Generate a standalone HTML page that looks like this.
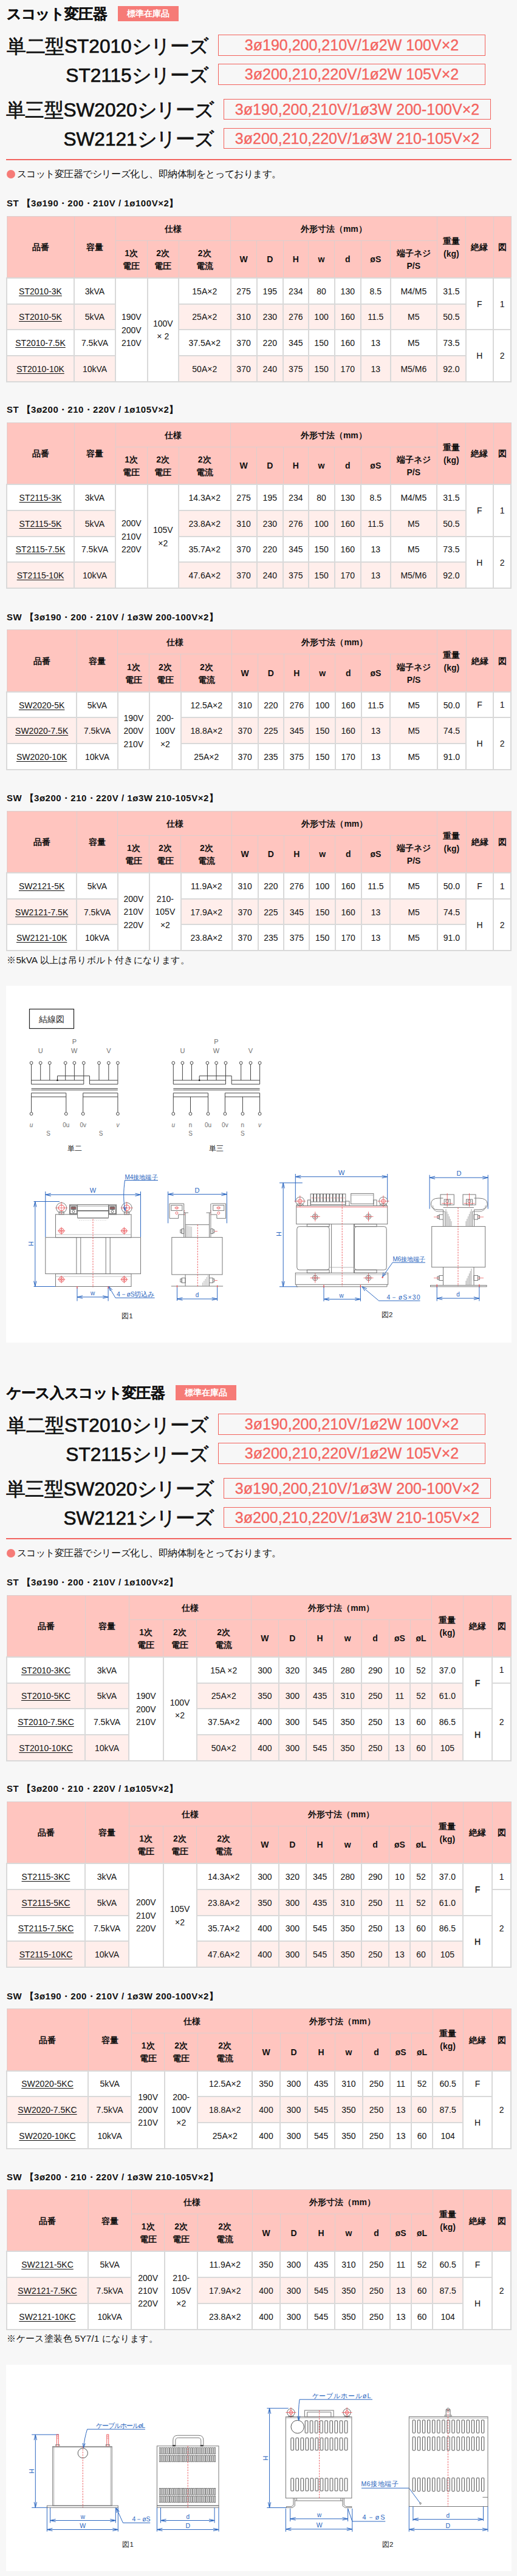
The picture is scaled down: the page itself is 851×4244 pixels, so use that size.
<!DOCTYPE html>
<html lang="ja">
<head>
<meta charset="utf-8">
<title>スコット変圧器</title>
<style>
*{box-sizing:border-box;margin:0;padding:0}
html,body{width:851px;height:4244px;overflow:hidden}
body{background:#f7f7f7;font-family:"Liberation Sans",sans-serif;color:#111;position:relative;font-size:14px}
.abs{position:absolute}
.ttl{position:absolute;left:11px;font-size:23.7px;font-weight:bold;line-height:30px;-webkit-text-stroke:.35px #111;white-space:nowrap;color:#111}
.badge{position:absolute;background:#f67b77;color:#fff;font-size:14px;font-weight:bold;line-height:25px;height:25px;text-align:center;white-space:nowrap}
.ser{position:absolute;font-size:31.6px;line-height:40px;-webkit-text-stroke:0.7px #111;white-space:nowrap;color:#111;text-align:right;left:0}
.box{position:absolute;border:1px solid #f2605a;color:#f4645f;font-size:25px;line-height:32px;height:34px;text-align:center;white-space:nowrap;-webkit-text-stroke:.35px #f4645f}
.rline{position:absolute;left:10px;width:832px;height:2px;background:#f2645f}
.bul{position:absolute;left:11px;font-size:15.55px;line-height:20px;white-space:nowrap}
.bul i{font-style:normal;display:inline-block;width:14px;height:14px;border-radius:50%;background:#f67b77;color:transparent;font-size:1px;overflow:hidden;vertical-align:-2px;margin-right:2.5px}
.cap{position:absolute;left:11px;font-size:15px;font-weight:bold;line-height:20px;white-space:nowrap;letter-spacing:.55px}
.note{position:absolute;left:11px;font-size:15.4px;line-height:20px;white-space:nowrap}
table{position:absolute;border-collapse:collapse;table-layout:fixed;background:#fff}
td,th{border:2px solid #d9d9d9;text-align:center;vertical-align:middle;font-size:14px;line-height:21px;padding:0;white-space:nowrap;overflow:hidden}
th{background:#ffc5bf;font-weight:bold;font-size:14px;line-height:21px;border:1px solid #dccfce;padding-top:2px}
tr.alt td{background:#ffeeeb}
td{padding-top:2px}
td b{font-weight:normal;-webkit-text-stroke:.35px #111}
td.w{background:#fff !important;line-height:21.4px}
td u{text-decoration:underline;text-underline-offset:2px}
.k{display:inline-block;width:1em;text-align:center}
.wb{position:absolute;left:10px;width:832px;background:#fff}
</style>
</head>
<body>
<div class="ttl" style="top:8px"><span class="k">ス</span><span class="k">コ</span><span class="k">ッ</span><span class="k">ト</span><span class="k">変</span><span class="k">圧</span><span class="k">器</span></div>
<div class="badge" style="left:194px;top:10px;width:100px"><span class="k">標</span><span class="k">準</span><span class="k">在</span><span class="k">庫</span><span class="k">品</span></div>
<div class="ser" style="top:55.5px;width:343px"><span class="k">単</span><span class="k">二</span><span class="k">型</span>ST2010<span class="k">シ</span><span class="k">リ</span><span class="k">ー</span><span class="k">ズ</span></div>
<div class="box" style="left:359px;top:57px;width:440px;height:35px;line-height:33px">3ø190,200,210V/1ø2W 100V×2</div>
<div class="ser" style="top:103.5px;width:343px">ST2115<span class="k">シ</span><span class="k">リ</span><span class="k">ー</span><span class="k">ズ</span></div>
<div class="box" style="left:359px;top:105px;width:440px;height:35px;line-height:33px">3ø200,210,220V/1ø2W 105V×2</div>
<div class="ser" style="top:161px;width:352px"><span class="k">単</span><span class="k">三</span><span class="k">型</span>SW2020<span class="k">シ</span><span class="k">リ</span><span class="k">ー</span><span class="k">ズ</span></div>
<div class="box" style="left:368px;top:163px;width:440px;height:34px;line-height:32px">3ø190,200,210V/1ø3W 200-100V×2</div>
<div class="ser" style="top:209px;width:352px">SW2121<span class="k">シ</span><span class="k">リ</span><span class="k">ー</span><span class="k">ズ</span></div>
<div class="box" style="left:368px;top:211px;width:440px;height:34px;line-height:32px">3ø200,210,220V/1ø3W 210-105V×2</div>
<div class="rline" style="top:262px"></div>
<div class="bul" style="top:276.5px"><i>●</i><span class="k">ス</span><span class="k">コ</span><span class="k">ッ</span><span class="k">ト</span><span class="k">変</span><span class="k">圧</span><span class="k">器</span><span class="k">で</span><span class="k">シ</span><span class="k">リ</span><span class="k">ー</span><span class="k">ズ</span><span class="k">化</span><span class="k">し</span><span class="k">、</span><span class="k">即</span><span class="k">納</span><span class="k">体</span><span class="k">制</span><span class="k">を</span><span class="k">と</span><span class="k">っ</span><span class="k">て</span><span class="k">お</span><span class="k">り</span><span class="k">ま</span><span class="k">す</span><span class="k">。</span></div>
<div class="cap" style="top:325.1px">ST <span class="k">【</span>3ø190<span class="k">・</span>200<span class="k">・</span>210V / 1ø100V×2<span class="k">】</span></div>
<table style="left:10.0px;top:355.5px;width:832.0px"><colgroup><col style="width:111.0px"><col style="width:68.0px"><col style="width:52.5px"><col style="width:51.5px"><col style="width:85.5px"><col style="width:43.0px"><col style="width:43.5px"><col style="width:41.5px"><col style="width:43.0px"><col style="width:43.5px"><col style="width:48.5px"><col style="width:76.5px"><col style="width:47.5px"><col style="width:45.5px"><col style="width:29.0px"></colgroup>
<tr style="height:40.00px"><th rowspan="2"><span class="k">品</span><span class="k">番</span></th><th rowspan="2"><span class="k">容</span><span class="k">量</span></th><th colspan="3"><span class="k">仕</span><span class="k">様</span></th><th colspan="7"><span class="k">外</span><span class="k">形</span><span class="k">寸</span><span class="k">法</span><span class="k">（</span>mm<span class="k">）</span></th><th rowspan="2"><span class="k">重</span><span class="k">量</span><br>(kg)</th><th rowspan="2"><span class="k">絶</span><span class="k">縁</span></th><th rowspan="2"><span class="k">図</span></th></tr><tr style="height:61.80px"><th>1<span class="k">次</span><br><span class="k">電</span><span class="k">圧</span></th><th>2<span class="k">次</span><br><span class="k">電</span><span class="k">圧</span></th><th>2<span class="k">次</span><br><span class="k">電</span><span class="k">流</span></th><th>W</th><th>D</th><th>H</th><th>w</th><th>d</th><th>øS</th><th><span class="k">端</span><span class="k">子</span><span class="k">ネ</span><span class="k">ジ</span><br>P/S</th></tr>
<tr style="height:42.75px"><td><u>ST2010-3K</u></td><td>3kVA</td><td class="w" rowspan="4">190V<br>200V<br>210V</td><td class="w" rowspan="4">100V<br>× 2</td><td>15A×2</td><td>275</td><td>195</td><td>234</td><td>80</td><td>130</td><td>8.5</td><td>M4/M5</td><td>31.5</td><td class="w" rowspan="2">F</td><td class="w" rowspan="2">1</td></tr>
<tr class="alt" style="height:42.75px"><td><u>ST2010-5K</u></td><td>5kVA</td><td>25A×2</td><td>310</td><td>230</td><td>276</td><td>100</td><td>160</td><td>11.5</td><td>M5</td><td>50.5</td></tr>
<tr style="height:42.75px"><td><u>ST2010-7.5K</u></td><td>7.5kVA</td><td>37.5A×2</td><td>370</td><td>220</td><td>345</td><td>150</td><td>160</td><td>13</td><td>M5</td><td>73.5</td><td class="w" rowspan="2">H</td><td class="w" rowspan="2">2</td></tr>
<tr class="alt" style="height:42.75px"><td><u>ST2010-10K</u></td><td>10kVA</td><td>50A×2</td><td>370</td><td>240</td><td>375</td><td>150</td><td>170</td><td>13</td><td>M5/M6</td><td>92.0</td></tr>
</table>
<div class="cap" style="top:665.4px">ST <span class="k">【</span>3ø200<span class="k">・</span>210<span class="k">・</span>220V / 1ø105V×2<span class="k">】</span></div>
<table style="left:10.0px;top:695.8px;width:832.0px"><colgroup><col style="width:111.0px"><col style="width:68.0px"><col style="width:52.5px"><col style="width:51.5px"><col style="width:85.5px"><col style="width:43.0px"><col style="width:43.5px"><col style="width:41.5px"><col style="width:43.0px"><col style="width:43.5px"><col style="width:48.5px"><col style="width:76.5px"><col style="width:47.5px"><col style="width:45.5px"><col style="width:29.0px"></colgroup>
<tr style="height:40.00px"><th rowspan="2"><span class="k">品</span><span class="k">番</span></th><th rowspan="2"><span class="k">容</span><span class="k">量</span></th><th colspan="3"><span class="k">仕</span><span class="k">様</span></th><th colspan="7"><span class="k">外</span><span class="k">形</span><span class="k">寸</span><span class="k">法</span><span class="k">（</span>mm<span class="k">）</span></th><th rowspan="2"><span class="k">重</span><span class="k">量</span><br>(kg)</th><th rowspan="2"><span class="k">絶</span><span class="k">縁</span></th><th rowspan="2"><span class="k">図</span></th></tr><tr style="height:61.80px"><th>1<span class="k">次</span><br><span class="k">電</span><span class="k">圧</span></th><th>2<span class="k">次</span><br><span class="k">電</span><span class="k">圧</span></th><th>2<span class="k">次</span><br><span class="k">電</span><span class="k">流</span></th><th>W</th><th>D</th><th>H</th><th>w</th><th>d</th><th>øS</th><th><span class="k">端</span><span class="k">子</span><span class="k">ネ</span><span class="k">ジ</span><br>P/S</th></tr>
<tr style="height:42.75px"><td><u>ST2115-3K</u></td><td>3kVA</td><td class="w" rowspan="4">200V<br>210V<br>220V</td><td class="w" rowspan="4">105V<br>×2</td><td>14.3A×2</td><td>275</td><td>195</td><td>234</td><td>80</td><td>130</td><td>8.5</td><td>M4/M5</td><td>31.5</td><td class="w" rowspan="2">F</td><td class="w" rowspan="2">1</td></tr>
<tr class="alt" style="height:42.75px"><td><u>ST2115-5K</u></td><td>5kVA</td><td>23.8A×2</td><td>310</td><td>230</td><td>276</td><td>100</td><td>160</td><td>11.5</td><td>M5</td><td>50.5</td></tr>
<tr style="height:42.75px"><td><u>ST2115-7.5K</u></td><td>7.5kVA</td><td>35.7A×2</td><td>370</td><td>220</td><td>345</td><td>150</td><td>160</td><td>13</td><td>M5</td><td>73.5</td><td class="w" rowspan="2">H</td><td class="w" rowspan="2">2</td></tr>
<tr class="alt" style="height:42.75px"><td><u>ST2115-10K</u></td><td>10kVA</td><td>47.6A×2</td><td>370</td><td>240</td><td>375</td><td>150</td><td>170</td><td>13</td><td>M5/M6</td><td>92.0</td></tr>
</table>
<div class="cap" style="top:1007.0000000000001px">SW <span class="k">【</span>3ø190<span class="k">・</span>200<span class="k">・</span>210V / 1ø3W 200-100V×2<span class="k">】</span></div>
<table style="left:10.0px;top:1037.4px;width:832.0px"><colgroup><col style="width:115.3px"><col style="width:67.4px"><col style="width:52.3px"><col style="width:51.8px"><col style="width:84.0px"><col style="width:42.7px"><col style="width:42.8px"><col style="width:42.2px"><col style="width:42.3px"><col style="width:42.8px"><col style="width:47.8px"><col style="width:77.4px"><col style="width:47.2px"><col style="width:45.0px"><col style="width:29.0px"></colgroup>
<tr style="height:40.00px"><th rowspan="2"><span class="k">品</span><span class="k">番</span></th><th rowspan="2"><span class="k">容</span><span class="k">量</span></th><th colspan="3"><span class="k">仕</span><span class="k">様</span></th><th colspan="7"><span class="k">外</span><span class="k">形</span><span class="k">寸</span><span class="k">法</span><span class="k">（</span>mm<span class="k">）</span></th><th rowspan="2"><span class="k">重</span><span class="k">量</span><br>(kg)</th><th rowspan="2"><span class="k">絶</span><span class="k">縁</span></th><th rowspan="2"><span class="k">図</span></th></tr><tr style="height:61.80px"><th>1<span class="k">次</span><br><span class="k">電</span><span class="k">圧</span></th><th>2<span class="k">次</span><br><span class="k">電</span><span class="k">圧</span></th><th>2<span class="k">次</span><br><span class="k">電</span><span class="k">流</span></th><th>W</th><th>D</th><th>H</th><th>w</th><th>d</th><th>øS</th><th><span class="k">端</span><span class="k">子</span><span class="k">ネ</span><span class="k">ジ</span><br>P/S</th></tr>
<tr style="height:42.75px"><td><u>SW2020-5K</u></td><td>5kVA</td><td class="w" rowspan="3">190V<br>200V<br>210V</td><td class="w" rowspan="3">200-<br>100V<br>×2</td><td>12.5A×2</td><td>310</td><td>220</td><td>276</td><td>100</td><td>160</td><td>11.5</td><td>M5</td><td>50.0</td><td class="w">F</td><td class="w">1</td></tr>
<tr class="alt" style="height:42.75px"><td><u>SW2020-7.5K</u></td><td>7.5kVA</td><td>18.8A×2</td><td>370</td><td>225</td><td>345</td><td>150</td><td>160</td><td>13</td><td>M5</td><td>74.5</td><td class="w" rowspan="2">H</td><td class="w" rowspan="2">2</td></tr>
<tr style="height:42.75px"><td><u>SW2020-10K</u></td><td>10kVA</td><td>25A×2</td><td>370</td><td>235</td><td>375</td><td>150</td><td>170</td><td>13</td><td>M5</td><td>91.0</td></tr>
</table>
<div class="cap" style="top:1305.1999999999998px">SW <span class="k">【</span>3ø200<span class="k">・</span>210<span class="k">・</span>220V / 1ø3W 210-105V×2<span class="k">】</span></div>
<table style="left:10.0px;top:1335.6px;width:832.0px"><colgroup><col style="width:115.3px"><col style="width:67.4px"><col style="width:52.3px"><col style="width:51.8px"><col style="width:84.0px"><col style="width:42.7px"><col style="width:42.8px"><col style="width:42.2px"><col style="width:42.3px"><col style="width:42.8px"><col style="width:47.8px"><col style="width:77.4px"><col style="width:47.2px"><col style="width:45.0px"><col style="width:29.0px"></colgroup>
<tr style="height:40.00px"><th rowspan="2"><span class="k">品</span><span class="k">番</span></th><th rowspan="2"><span class="k">容</span><span class="k">量</span></th><th colspan="3"><span class="k">仕</span><span class="k">様</span></th><th colspan="7"><span class="k">外</span><span class="k">形</span><span class="k">寸</span><span class="k">法</span><span class="k">（</span>mm<span class="k">）</span></th><th rowspan="2"><span class="k">重</span><span class="k">量</span><br>(kg)</th><th rowspan="2"><span class="k">絶</span><span class="k">縁</span></th><th rowspan="2"><span class="k">図</span></th></tr><tr style="height:61.80px"><th>1<span class="k">次</span><br><span class="k">電</span><span class="k">圧</span></th><th>2<span class="k">次</span><br><span class="k">電</span><span class="k">圧</span></th><th>2<span class="k">次</span><br><span class="k">電</span><span class="k">流</span></th><th>W</th><th>D</th><th>H</th><th>w</th><th>d</th><th>øS</th><th><span class="k">端</span><span class="k">子</span><span class="k">ネ</span><span class="k">ジ</span><br>P/S</th></tr>
<tr style="height:42.75px"><td><u>SW2121-5K</u></td><td>5kVA</td><td class="w" rowspan="3">200V<br>210V<br>220V</td><td class="w" rowspan="3">210-<br>105V<br>×2</td><td>11.9A×2</td><td>310</td><td>220</td><td>276</td><td>100</td><td>160</td><td>11.5</td><td>M5</td><td>50.0</td><td class="w">F</td><td class="w">1</td></tr>
<tr class="alt" style="height:42.75px"><td><u>SW2121-7.5K</u></td><td>7.5kVA</td><td>17.9A×2</td><td>370</td><td>225</td><td>345</td><td>150</td><td>160</td><td>13</td><td>M5</td><td>74.5</td><td class="w" rowspan="2">H</td><td class="w" rowspan="2">2</td></tr>
<tr style="height:42.75px"><td><u>SW2121-10K</u></td><td>10kVA</td><td>23.8A×2</td><td>370</td><td>235</td><td>375</td><td>150</td><td>170</td><td>13</td><td>M5</td><td>91.0</td></tr>
</table>
<div class="note" style="top:1572px"><span class="k">※</span>5kVA <span class="k">以</span><span class="k">上</span><span class="k">は</span><span class="k">吊</span><span class="k">り</span><span class="k">ボ</span><span class="k">ル</span><span class="k">ト</span><span class="k">付</span><span class="k">き</span><span class="k">に</span><span class="k">な</span><span class="k">り</span><span class="k">ま</span><span class="k">す</span><span class="k">。</span></div>
<div class="wb" style="top:1624px;height:588px"><svg width="832" height="588" viewBox="10 1624 832 588" style="position:absolute;left:0;top:0;font-family:'Liberation Sans',sans-serif" shape-rendering="geometricPrecision">
<rect x="48.5" y="1662.5" width="73.0" height="32.0" rx="0" fill="none" stroke="#222" stroke-width="1.2"/>
<text x="85.0" y="1683.5" font-size="14" fill="#222" text-anchor="middle" font-weight="normal">結線図</text>
<text x="122.3" y="1719.5" font-size="11" fill="#707070" text-anchor="middle" font-weight="normal">P</text>
<text x="66.7" y="1734.5" font-size="11" fill="#707070" text-anchor="middle" font-weight="normal">U</text>
<text x="122.3" y="1734.5" font-size="11" fill="#707070" text-anchor="middle" font-weight="normal">W</text>
<text x="178.8" y="1734.5" font-size="11" fill="#707070" text-anchor="middle" font-weight="normal">V</text>
<circle cx="51.6" cy="1751.2" r="2.4" fill="#fff" stroke="#444" stroke-width="1"/>
<line x1="51.6" y1="1753.6" x2="51.6" y2="1786.2" stroke="#444" stroke-width="1"/>
<circle cx="66.7" cy="1751.2" r="2.4" fill="#fff" stroke="#444" stroke-width="1"/>
<line x1="66.7" y1="1753.6" x2="66.7" y2="1779.8" stroke="#444" stroke-width="1"/>
<circle cx="81.8" cy="1751.2" r="2.4" fill="#fff" stroke="#444" stroke-width="1"/>
<line x1="81.8" y1="1753.6" x2="81.8" y2="1779.8" stroke="#444" stroke-width="1"/>
<circle cx="107.7" cy="1751.2" r="2.4" fill="#fff" stroke="#444" stroke-width="1"/>
<line x1="107.7" y1="1753.6" x2="107.7" y2="1779.8" stroke="#444" stroke-width="1"/>
<circle cx="122.4" cy="1751.2" r="2.4" fill="#fff" stroke="#444" stroke-width="1"/>
<line x1="122.4" y1="1753.6" x2="122.4" y2="1779.8" stroke="#444" stroke-width="1"/>
<circle cx="137.8" cy="1751.2" r="2.4" fill="#fff" stroke="#444" stroke-width="1"/>
<line x1="137.8" y1="1753.6" x2="137.8" y2="1786.2" stroke="#444" stroke-width="1"/>
<circle cx="163.0" cy="1751.2" r="2.4" fill="#fff" stroke="#444" stroke-width="1"/>
<line x1="163.0" y1="1753.6" x2="163.0" y2="1779.8" stroke="#444" stroke-width="1"/>
<circle cx="178.8" cy="1751.2" r="2.4" fill="#fff" stroke="#444" stroke-width="1"/>
<line x1="178.8" y1="1753.6" x2="178.8" y2="1779.8" stroke="#444" stroke-width="1"/>
<circle cx="193.9" cy="1751.2" r="2.4" fill="#fff" stroke="#444" stroke-width="1"/>
<line x1="193.9" y1="1753.6" x2="193.9" y2="1786.2" stroke="#444" stroke-width="1"/>
<line x1="51.6" y1="1779.8" x2="137.8" y2="1779.8" stroke="#444" stroke-width="1"/>
<line x1="51.6" y1="1786.2" x2="137.8" y2="1786.2" stroke="#444" stroke-width="1"/>
<line x1="147.5" y1="1779.8" x2="193.9" y2="1779.8" stroke="#444" stroke-width="1"/>
<line x1="147.5" y1="1786.2" x2="193.9" y2="1786.2" stroke="#444" stroke-width="1"/>
<polyline points="94.5,1779.8 94.5,1772.6 147.5,1772.6 147.5,1786.2" fill="none" stroke="#444" stroke-width="1"/>
<circle cx="94.5" cy="1779.8" r="1.3" fill="#111" stroke="#111" stroke-width="0"/>
<line x1="51.6" y1="1793.4" x2="193.9" y2="1793.4" stroke="#444" stroke-width="1"/>
<line x1="51.6" y1="1795.8" x2="193.9" y2="1795.8" stroke="#444" stroke-width="1"/>
<line x1="51.6" y1="1800.8" x2="108.8" y2="1800.8" stroke="#444" stroke-width="1"/>
<line x1="51.6" y1="1807.0" x2="108.8" y2="1807.0" stroke="#444" stroke-width="1"/>
<line x1="51.6" y1="1800.8" x2="51.6" y2="1832.6" stroke="#444" stroke-width="1"/>
<line x1="108.8" y1="1800.8" x2="108.8" y2="1832.6" stroke="#444" stroke-width="1"/>
<circle cx="51.6" cy="1835.0" r="2.4" fill="#fff" stroke="#444" stroke-width="1"/>
<circle cx="108.8" cy="1835.0" r="2.4" fill="#fff" stroke="#444" stroke-width="1"/>
<line x1="136.7" y1="1800.8" x2="193.9" y2="1800.8" stroke="#444" stroke-width="1"/>
<line x1="136.7" y1="1807.0" x2="193.9" y2="1807.0" stroke="#444" stroke-width="1"/>
<line x1="136.7" y1="1800.8" x2="136.7" y2="1832.6" stroke="#444" stroke-width="1"/>
<line x1="193.9" y1="1800.8" x2="193.9" y2="1832.6" stroke="#444" stroke-width="1"/>
<circle cx="136.7" cy="1835.0" r="2.4" fill="#fff" stroke="#444" stroke-width="1"/>
<circle cx="193.9" cy="1835.0" r="2.4" fill="#fff" stroke="#444" stroke-width="1"/>
<text x="51.6" y="1856.5" font-size="10" fill="#707070" text-anchor="middle" font-weight="normal" font-style="italic">u</text>
<text x="108.8" y="1856.5" font-size="10" fill="#707070" text-anchor="middle" font-weight="normal">0u</text>
<text x="136.7" y="1856.5" font-size="10" fill="#707070" text-anchor="middle" font-weight="normal">0v</text>
<text x="193.9" y="1856.5" font-size="10" fill="#707070" text-anchor="middle" font-weight="normal" font-style="italic">v</text>
<text x="79.5" y="1870.5" font-size="10" fill="#707070" text-anchor="middle" font-weight="normal">S</text>
<text x="166.0" y="1870.5" font-size="10" fill="#707070" text-anchor="middle" font-weight="normal">S</text>
<text x="122.5" y="1896.0" font-size="12" fill="#222" text-anchor="middle" font-weight="normal">単二</text>
<text x="356.0" y="1719.5" font-size="11" fill="#707070" text-anchor="middle" font-weight="normal">P</text>
<text x="300.4" y="1734.5" font-size="11" fill="#707070" text-anchor="middle" font-weight="normal">U</text>
<text x="356.0" y="1734.5" font-size="11" fill="#707070" text-anchor="middle" font-weight="normal">W</text>
<text x="412.5" y="1734.5" font-size="11" fill="#707070" text-anchor="middle" font-weight="normal">V</text>
<circle cx="285.3" cy="1751.2" r="2.4" fill="#fff" stroke="#444" stroke-width="1"/>
<line x1="285.3" y1="1753.6" x2="285.3" y2="1786.2" stroke="#444" stroke-width="1"/>
<circle cx="300.4" cy="1751.2" r="2.4" fill="#fff" stroke="#444" stroke-width="1"/>
<line x1="300.4" y1="1753.6" x2="300.4" y2="1779.8" stroke="#444" stroke-width="1"/>
<circle cx="315.5" cy="1751.2" r="2.4" fill="#fff" stroke="#444" stroke-width="1"/>
<line x1="315.5" y1="1753.6" x2="315.5" y2="1779.8" stroke="#444" stroke-width="1"/>
<circle cx="341.4" cy="1751.2" r="2.4" fill="#fff" stroke="#444" stroke-width="1"/>
<line x1="341.4" y1="1753.6" x2="341.4" y2="1779.8" stroke="#444" stroke-width="1"/>
<circle cx="356.1" cy="1751.2" r="2.4" fill="#fff" stroke="#444" stroke-width="1"/>
<line x1="356.1" y1="1753.6" x2="356.1" y2="1779.8" stroke="#444" stroke-width="1"/>
<circle cx="371.5" cy="1751.2" r="2.4" fill="#fff" stroke="#444" stroke-width="1"/>
<line x1="371.5" y1="1753.6" x2="371.5" y2="1786.2" stroke="#444" stroke-width="1"/>
<circle cx="396.7" cy="1751.2" r="2.4" fill="#fff" stroke="#444" stroke-width="1"/>
<line x1="396.7" y1="1753.6" x2="396.7" y2="1779.8" stroke="#444" stroke-width="1"/>
<circle cx="412.5" cy="1751.2" r="2.4" fill="#fff" stroke="#444" stroke-width="1"/>
<line x1="412.5" y1="1753.6" x2="412.5" y2="1779.8" stroke="#444" stroke-width="1"/>
<circle cx="427.6" cy="1751.2" r="2.4" fill="#fff" stroke="#444" stroke-width="1"/>
<line x1="427.6" y1="1753.6" x2="427.6" y2="1786.2" stroke="#444" stroke-width="1"/>
<line x1="285.3" y1="1779.8" x2="371.5" y2="1779.8" stroke="#444" stroke-width="1"/>
<line x1="285.3" y1="1786.2" x2="371.5" y2="1786.2" stroke="#444" stroke-width="1"/>
<line x1="381.2" y1="1779.8" x2="427.6" y2="1779.8" stroke="#444" stroke-width="1"/>
<line x1="381.2" y1="1786.2" x2="427.6" y2="1786.2" stroke="#444" stroke-width="1"/>
<polyline points="328.2,1779.8 328.2,1772.6 381.2,1772.6 381.2,1786.2" fill="none" stroke="#444" stroke-width="1"/>
<circle cx="328.2" cy="1779.8" r="1.3" fill="#111" stroke="#111" stroke-width="0"/>
<line x1="285.3" y1="1793.4" x2="427.6" y2="1793.4" stroke="#444" stroke-width="1"/>
<line x1="285.3" y1="1795.8" x2="427.6" y2="1795.8" stroke="#444" stroke-width="1"/>
<line x1="285.3" y1="1800.8" x2="342.5" y2="1800.8" stroke="#444" stroke-width="1"/>
<line x1="285.3" y1="1807.0" x2="342.5" y2="1807.0" stroke="#444" stroke-width="1"/>
<line x1="285.3" y1="1800.8" x2="285.3" y2="1832.6" stroke="#444" stroke-width="1"/>
<line x1="342.5" y1="1800.8" x2="342.5" y2="1832.6" stroke="#444" stroke-width="1"/>
<circle cx="285.3" cy="1835.0" r="2.4" fill="#fff" stroke="#444" stroke-width="1"/>
<circle cx="342.5" cy="1835.0" r="2.4" fill="#fff" stroke="#444" stroke-width="1"/>
<line x1="370.4" y1="1800.8" x2="427.6" y2="1800.8" stroke="#444" stroke-width="1"/>
<line x1="370.4" y1="1807.0" x2="427.6" y2="1807.0" stroke="#444" stroke-width="1"/>
<line x1="370.4" y1="1800.8" x2="370.4" y2="1832.6" stroke="#444" stroke-width="1"/>
<line x1="427.6" y1="1800.8" x2="427.6" y2="1832.6" stroke="#444" stroke-width="1"/>
<circle cx="370.4" cy="1835.0" r="2.4" fill="#fff" stroke="#444" stroke-width="1"/>
<circle cx="427.6" cy="1835.0" r="2.4" fill="#fff" stroke="#444" stroke-width="1"/>
<text x="285.3" y="1856.5" font-size="10" fill="#707070" text-anchor="middle" font-weight="normal" font-style="italic">u</text>
<text x="342.5" y="1856.5" font-size="10" fill="#707070" text-anchor="middle" font-weight="normal">0u</text>
<text x="370.4" y="1856.5" font-size="10" fill="#707070" text-anchor="middle" font-weight="normal">0v</text>
<text x="427.6" y="1856.5" font-size="10" fill="#707070" text-anchor="middle" font-weight="normal" font-style="italic">v</text>
<line x1="313.5" y1="1807.0" x2="313.5" y2="1832.6" stroke="#444" stroke-width="1"/>
<circle cx="313.5" cy="1835.0" r="2.4" fill="#fff" stroke="#444" stroke-width="1"/>
<text x="313.5" y="1856.5" font-size="10" fill="#707070" text-anchor="middle" font-weight="normal">n</text>
<text x="313.5" y="1871.0" font-size="10" fill="#707070" text-anchor="middle" font-weight="normal">S</text>
<line x1="399.4" y1="1807.0" x2="399.4" y2="1832.6" stroke="#444" stroke-width="1"/>
<circle cx="399.4" cy="1835.0" r="2.4" fill="#fff" stroke="#444" stroke-width="1"/>
<text x="399.4" y="1856.5" font-size="10" fill="#707070" text-anchor="middle" font-weight="normal">n</text>
<text x="399.4" y="1871.0" font-size="10" fill="#707070" text-anchor="middle" font-weight="normal">S</text>
<text x="356.0" y="1896.0" font-size="12" fill="#222" text-anchor="middle" font-weight="normal">単三</text>
<line x1="74.8" y1="1963.0" x2="74.8" y2="2038.0" stroke="#2a66c0" stroke-width="1"/>
<line x1="231.5" y1="1963.0" x2="231.5" y2="2038.0" stroke="#2a66c0" stroke-width="1"/>
<line x1="74.8" y1="1968.3" x2="231.5" y2="1968.3" stroke="#2a66c0" stroke-width="1"/>
<polyline points="83.8,1966.1 74.8,1968.3 83.8,1970.5" fill="none" stroke="#2a66c0" stroke-width="1"/>
<polyline points="222.5,1966.1 231.5,1968.3 222.5,1970.5" fill="none" stroke="#2a66c0" stroke-width="1"/>
<text x="153.0" y="1965.0" font-size="11" fill="#2a66c0" text-anchor="middle" font-weight="normal">W</text>
<line x1="55.5" y1="1979.5" x2="98.0" y2="1979.5" stroke="#2a66c0" stroke-width="1"/>
<line x1="55.5" y1="2119.5" x2="91.0" y2="2119.5" stroke="#2a66c0" stroke-width="1"/>
<line x1="57.8" y1="1979.5" x2="57.8" y2="2119.5" stroke="#2a66c0" stroke-width="1"/>
<polyline points="55.6,1988.5 57.8,1979.5 60.0,1988.5" fill="none" stroke="#2a66c0" stroke-width="1"/>
<polyline points="55.6,2110.5 57.8,2119.5 60.0,2110.5" fill="none" stroke="#2a66c0" stroke-width="1"/>
<text x="55.0" y="2049.0" font-size="11" fill="#2a66c0" text-anchor="middle" font-weight="normal" transform="rotate(-90 55.0 2049.0)">H</text>
<rect x="91.5" y="2000.8" width="124.5" height="37.9" rx="0" fill="none" stroke="#787878" stroke-width="1"/>
<line x1="91.5" y1="2034.0" x2="216.0" y2="2034.0" stroke="#aaa" stroke-width="0.7"/>
<rect x="74.8" y="2038.7" width="51.1" height="59.9" rx="0" fill="none" stroke="#787878" stroke-width="1"/>
<rect x="181.2" y="2038.7" width="50.3" height="59.9" rx="0" fill="none" stroke="#787878" stroke-width="1"/>
<line x1="125.9" y1="2038.7" x2="181.2" y2="2038.7" stroke="#787878" stroke-width="1"/>
<line x1="125.9" y1="2098.6" x2="181.2" y2="2098.6" stroke="#787878" stroke-width="1"/>
<line x1="132.8" y1="2038.7" x2="132.8" y2="2098.6" stroke="#787878" stroke-width="1"/>
<line x1="174.2" y1="2038.7" x2="174.2" y2="2098.6" stroke="#787878" stroke-width="1"/>
<rect x="91.5" y="2098.6" width="124.5" height="20.9" rx="0" fill="none" stroke="#787878" stroke-width="1"/>
<line x1="91.5" y1="2103.0" x2="216.0" y2="2103.0" stroke="#aaa" stroke-width="0.7"/>
<circle cx="101.1" cy="2027.8" r="4.2" fill="none" stroke="#ea4a4e" stroke-width="1"/>
<circle cx="101.1" cy="2027.8" r="1.8900000000000001" fill="none" stroke="#ea4a4e" stroke-width="0.8"/>
<line x1="94.9" y1="2027.8" x2="107.3" y2="2027.8" stroke="#ea4a4e" stroke-width="0.7"/>
<line x1="101.1" y1="2021.6" x2="101.1" y2="2034.0" stroke="#ea4a4e" stroke-width="0.7"/>
<circle cx="101.1" cy="2107.9" r="4.2" fill="none" stroke="#ea4a4e" stroke-width="1"/>
<circle cx="101.1" cy="2107.9" r="1.8900000000000001" fill="none" stroke="#ea4a4e" stroke-width="0.8"/>
<line x1="94.9" y1="2107.9" x2="107.3" y2="2107.9" stroke="#ea4a4e" stroke-width="0.7"/>
<line x1="101.1" y1="2101.7" x2="101.1" y2="2114.1" stroke="#ea4a4e" stroke-width="0.7"/>
<circle cx="204.4" cy="2027.8" r="4.2" fill="none" stroke="#ea4a4e" stroke-width="1"/>
<circle cx="204.4" cy="2027.8" r="1.8900000000000001" fill="none" stroke="#ea4a4e" stroke-width="0.8"/>
<line x1="198.2" y1="2027.8" x2="210.6" y2="2027.8" stroke="#ea4a4e" stroke-width="0.7"/>
<line x1="204.4" y1="2021.6" x2="204.4" y2="2034.0" stroke="#ea4a4e" stroke-width="0.7"/>
<circle cx="204.4" cy="2107.9" r="4.2" fill="none" stroke="#ea4a4e" stroke-width="1"/>
<circle cx="204.4" cy="2107.9" r="1.8900000000000001" fill="none" stroke="#ea4a4e" stroke-width="0.8"/>
<line x1="198.2" y1="2107.9" x2="210.6" y2="2107.9" stroke="#ea4a4e" stroke-width="0.7"/>
<line x1="204.4" y1="2101.7" x2="204.4" y2="2114.1" stroke="#ea4a4e" stroke-width="0.7"/>
<circle cx="101.1" cy="1990.0" r="8.5" fill="none" stroke="#787878" stroke-width="1"/>
<circle cx="101.1" cy="1990.0" r="4.8" fill="none" stroke="#ea4a4e" stroke-width="1"/>
<line x1="91.1" y1="1990.0" x2="111.1" y2="1990.0" stroke="#ea4a4e" stroke-width="0.7"/>
<line x1="101.1" y1="1980.0" x2="101.1" y2="2001.0" stroke="#ea4a4e" stroke-width="0.7"/>
<rect x="97.1" y="1996.5" width="8.0" height="4.3" rx="0" fill="none" stroke="#787878" stroke-width="1"/>
<circle cx="208.6" cy="1990.0" r="8.5" fill="none" stroke="#787878" stroke-width="1"/>
<circle cx="208.6" cy="1990.0" r="4.8" fill="none" stroke="#ea4a4e" stroke-width="1"/>
<line x1="198.6" y1="1990.0" x2="218.6" y2="1990.0" stroke="#ea4a4e" stroke-width="0.7"/>
<line x1="208.6" y1="1980.0" x2="208.6" y2="2001.0" stroke="#ea4a4e" stroke-width="0.7"/>
<rect x="204.6" y="1996.5" width="8.0" height="4.3" rx="0" fill="none" stroke="#787878" stroke-width="1"/>
<rect x="114.4" y="1984.8" width="77.2" height="16.0" rx="0" fill="none" stroke="#787878" stroke-width="1"/>
<rect x="127.6" y="1984.8" width="50.9" height="21.4" rx="0" fill="#fff" stroke="#787878" stroke-width="1"/>
<line x1="127.6" y1="1987.2" x2="178.5" y2="1987.2" stroke="#999" stroke-width="0.8"/>
<line x1="127.6" y1="1994.7" x2="178.5" y2="1994.7" stroke="#555" stroke-width="1.4"/>
<line x1="127.6" y1="2007.4" x2="178.5" y2="2007.4" stroke="#999" stroke-width="0.8"/>
<rect x="115.6" y="1986.0" width="10.7" height="13.6" rx="0" fill="none" stroke="#555" stroke-width="0.9"/>
<rect x="117.6" y="1988.0" width="6.7" height="4.5" rx="0" fill="#777" stroke="#444" stroke-width="0.9"/>
<line x1="116.6" y1="1990.2" x2="125.3" y2="1990.2" stroke="#ea4a4e" stroke-width="0.8"/>
<circle cx="120.9" cy="1996.0" r="2" fill="none" stroke="#555" stroke-width="0.9"/>
<rect x="179.7" y="1986.0" width="10.7" height="13.6" rx="0" fill="none" stroke="#555" stroke-width="0.9"/>
<rect x="181.7" y="1988.0" width="6.7" height="4.5" rx="0" fill="#777" stroke="#444" stroke-width="0.9"/>
<line x1="180.7" y1="1990.2" x2="189.4" y2="1990.2" stroke="#ea4a4e" stroke-width="0.8"/>
<circle cx="185.0" cy="1996.0" r="2" fill="none" stroke="#555" stroke-width="0.9"/>
<line x1="130.0" y1="2010.5" x2="176.0" y2="2010.5" stroke="#ccc" stroke-width="0.7" stroke-dasharray="2 1.5"/>
<line x1="153.0" y1="2008.5" x2="153.0" y2="2121.0" stroke="#ea4a4e" stroke-width="0.9" stroke-dasharray="2.5 1.8"/>
<line x1="127.0" y1="2121.0" x2="127.0" y2="2143.5" stroke="#2a66c0" stroke-width="1"/>
<line x1="178.1" y1="2121.0" x2="178.1" y2="2143.5" stroke="#2a66c0" stroke-width="1"/>
<line x1="127.0" y1="2119.0" x2="127.0" y2="2123.0" stroke="#ea4a4e" stroke-width="1.2"/>
<line x1="178.1" y1="2119.0" x2="178.1" y2="2123.0" stroke="#ea4a4e" stroke-width="1.2"/>
<line x1="127.0" y1="2136.9" x2="178.1" y2="2136.9" stroke="#2a66c0" stroke-width="1"/>
<polyline points="136.0,2134.7 127.0,2136.9 136.0,2139.1" fill="none" stroke="#2a66c0" stroke-width="1"/>
<polyline points="169.1,2134.7 178.1,2136.9 169.1,2139.1" fill="none" stroke="#2a66c0" stroke-width="1"/>
<text x="152.5" y="2134.0" font-size="10" fill="#2a66c0" text-anchor="middle" font-weight="normal">w</text>
<polyline points="179.0,2119.5 190.0,2138.2 254.6,2138.2" fill="none" stroke="#2a66c0" stroke-width="1"/>
<polyline points="181.5,2127.0 179.0,2119.5 185.0,2125.0" fill="none" stroke="#2a66c0" stroke-width="1"/>
<text x="192.0" y="2136.0" font-size="10.5" fill="#2a66c0" text-anchor="start" font-weight="normal" textLength="62">4－øS切込み</text>
<text x="205.5" y="1942.5" font-size="10" fill="#2a66c0" text-anchor="start" font-weight="normal" textLength="54">M4接地端子</text>
<path d="M260 1944.5 H205.5 C203 1962 203 1980 206 1995" fill="none" stroke="#2a66c0" stroke-width="1"/>
<polyline points="203.5,1988.0 206.0,1995.0 207.5,1988.0" fill="none" stroke="#2a66c0" stroke-width="1"/>
<text x="209.5" y="2171.5" font-size="11.5" fill="#222" text-anchor="middle" font-weight="normal">図1</text>
<line x1="276.6" y1="1963.0" x2="276.6" y2="2015.3" stroke="#2a66c0" stroke-width="1"/>
<line x1="373.4" y1="1963.0" x2="373.4" y2="2015.3" stroke="#2a66c0" stroke-width="1"/>
<line x1="276.6" y1="1967.6" x2="373.4" y2="1967.6" stroke="#2a66c0" stroke-width="1"/>
<polyline points="285.6,1965.4 276.6,1967.6 285.6,1969.8" fill="none" stroke="#2a66c0" stroke-width="1"/>
<polyline points="364.4,1965.4 373.4,1967.6 364.4,1969.8" fill="none" stroke="#2a66c0" stroke-width="1"/>
<text x="324.6" y="1964.5" font-size="11" fill="#2a66c0" text-anchor="middle" font-weight="normal">D</text>
<polyline points="302.7,1983.0 279.0,1983.0 279.0,2007.3 293.7,2007.3 293.7,2001.0 302.7,2001.0" fill="none" stroke="#787878" stroke-width="1"/>
<rect x="281.8" y="1985.7" width="18.1" height="8.7" rx="0" fill="none" stroke="#787878" stroke-width="1"/>
<circle cx="290.9" cy="1990.0" r="2" fill="none" stroke="#ea4a4e" stroke-width="0.8"/>
<line x1="286.9" y1="1990.0" x2="294.9" y2="1990.0" stroke="#ea4a4e" stroke-width="0.6"/>
<circle cx="290.9" cy="1998.5" r="2" fill="none" stroke="#ea4a4e" stroke-width="0.8"/>
<line x1="303.7" y1="1994.0" x2="303.7" y2="2003.0" stroke="#ea4a4e" stroke-width="0.8" stroke-dasharray="2 1"/>
<polyline points="347.9,1983.0 371.6,1983.0 371.6,2007.3 356.9,2007.3 356.9,2001.0 347.9,2001.0" fill="none" stroke="#787878" stroke-width="1"/>
<rect x="350.7" y="1985.7" width="18.1" height="8.7" rx="0" fill="none" stroke="#787878" stroke-width="1"/>
<circle cx="359.8" cy="1990.0" r="2" fill="none" stroke="#ea4a4e" stroke-width="0.8"/>
<line x1="355.8" y1="1990.0" x2="363.8" y2="1990.0" stroke="#ea4a4e" stroke-width="0.6"/>
<circle cx="359.8" cy="1998.5" r="2" fill="none" stroke="#ea4a4e" stroke-width="0.8"/>
<line x1="346.9" y1="1994.0" x2="346.9" y2="2003.0" stroke="#ea4a4e" stroke-width="0.8" stroke-dasharray="2 1"/>
<line x1="302.7" y1="1983.0" x2="302.7" y2="2038.6" stroke="#787878" stroke-width="1"/>
<line x1="305.1" y1="1998.0" x2="305.1" y2="2038.6" stroke="#787878" stroke-width="1"/>
<line x1="302.7" y1="1998.0" x2="310.0" y2="1998.0" stroke="#787878" stroke-width="1"/>
<line x1="346.9" y1="1983.0" x2="346.9" y2="2038.6" stroke="#787878" stroke-width="1"/>
<line x1="344.5" y1="1998.0" x2="344.5" y2="2038.6" stroke="#787878" stroke-width="1"/>
<line x1="339.5" y1="1998.0" x2="346.9" y2="1998.0" stroke="#787878" stroke-width="1"/>
<line x1="305.1" y1="2017.7" x2="344.5" y2="2017.7" stroke="#787878" stroke-width="1"/>
<line x1="306.5" y1="2019.0" x2="306.5" y2="2038.0" stroke="#999" stroke-width="0.7"/>
<line x1="308.7" y1="2019.5" x2="308.7" y2="2038.0" stroke="#999" stroke-width="0.7"/>
<line x1="310.9" y1="2020.0" x2="310.9" y2="2038.0" stroke="#999" stroke-width="0.7"/>
<line x1="313.1" y1="2020.5" x2="313.1" y2="2038.0" stroke="#999" stroke-width="0.7"/>
<line x1="315.3" y1="2021.0" x2="315.3" y2="2038.0" stroke="#999" stroke-width="0.7"/>
<rect x="299.2" y="2024.5" width="3.5" height="8.0" rx="0" fill="none" stroke="#787878" stroke-width="1"/>
<rect x="296.8" y="2026.0" width="2.4" height="5.0" rx="0" fill="none" stroke="#787878" stroke-width="1"/>
<rect x="346.9" y="2024.5" width="3.5" height="8.0" rx="0" fill="none" stroke="#787878" stroke-width="1"/>
<rect x="350.4" y="2026.0" width="2.4" height="5.0" rx="0" fill="none" stroke="#787878" stroke-width="1"/>
<line x1="352.8" y1="2028.5" x2="358.0" y2="2028.5" stroke="#ea4a4e" stroke-width="0.7"/>
<rect x="282.8" y="2038.6" width="83.2" height="61.3" rx="0" fill="none" stroke="#787878" stroke-width="1"/>
<line x1="305.1" y1="2099.9" x2="305.1" y2="2119.0" stroke="#787878" stroke-width="1"/>
<line x1="344.5" y1="2099.9" x2="344.5" y2="2119.0" stroke="#787878" stroke-width="1"/>
<line x1="342.5" y1="2101.0" x2="342.5" y2="2118.5" stroke="#999" stroke-width="0.7"/>
<line x1="340.3" y1="2104.0" x2="340.3" y2="2118.5" stroke="#999" stroke-width="0.7"/>
<line x1="338.1" y1="2107.0" x2="338.1" y2="2118.5" stroke="#999" stroke-width="0.7"/>
<line x1="335.9" y1="2110.0" x2="335.9" y2="2118.5" stroke="#999" stroke-width="0.7"/>
<line x1="333.7" y1="2113.0" x2="333.7" y2="2118.5" stroke="#999" stroke-width="0.7"/>
<rect x="299.2" y="2105.5" width="5.9" height="8.0" rx="0" fill="none" stroke="#787878" stroke-width="1"/>
<rect x="296.8" y="2107.0" width="2.4" height="5.0" rx="0" fill="none" stroke="#787878" stroke-width="1"/>
<rect x="344.5" y="2105.5" width="5.9" height="8.0" rx="0" fill="none" stroke="#787878" stroke-width="1"/>
<rect x="350.4" y="2107.0" width="2.4" height="5.0" rx="0" fill="none" stroke="#787878" stroke-width="1"/>
<line x1="352.8" y1="2109.5" x2="358.0" y2="2109.5" stroke="#ea4a4e" stroke-width="0.7"/>
<line x1="281.8" y1="2119.0" x2="367.1" y2="2119.0" stroke="#787878" stroke-width="1"/>
<line x1="291.5" y1="2117.5" x2="291.5" y2="2121.0" stroke="#ea4a4e" stroke-width="1.2"/>
<line x1="357.7" y1="2117.5" x2="357.7" y2="2121.0" stroke="#ea4a4e" stroke-width="1.2"/>
<line x1="325.3" y1="2017.7" x2="325.3" y2="2121.0" stroke="#ea4a4e" stroke-width="0.9" stroke-dasharray="2.5 1.8"/>
<line x1="291.5" y1="2121.0" x2="291.5" y2="2143.0" stroke="#2a66c0" stroke-width="1"/>
<line x1="357.7" y1="2121.0" x2="357.7" y2="2143.0" stroke="#2a66c0" stroke-width="1"/>
<line x1="291.5" y1="2140.0" x2="357.7" y2="2140.0" stroke="#2a66c0" stroke-width="1"/>
<polyline points="300.5,2137.8 291.5,2140.0 300.5,2142.2" fill="none" stroke="#2a66c0" stroke-width="1"/>
<polyline points="348.7,2137.8 357.7,2140.0 348.7,2142.2" fill="none" stroke="#2a66c0" stroke-width="1"/>
<text x="324.6" y="2137.0" font-size="10" fill="#2a66c0" text-anchor="middle" font-weight="normal">d</text>
<line x1="486.3" y1="1934.0" x2="486.3" y2="1980.5" stroke="#2a66c0" stroke-width="1"/>
<line x1="637.7" y1="1934.0" x2="637.7" y2="1980.5" stroke="#2a66c0" stroke-width="1"/>
<line x1="486.3" y1="1938.7" x2="637.7" y2="1938.7" stroke="#2a66c0" stroke-width="1"/>
<polyline points="495.3,1936.5 486.3,1938.7 495.3,1940.9" fill="none" stroke="#2a66c0" stroke-width="1"/>
<polyline points="628.7,1936.5 637.7,1938.7 628.7,1940.9" fill="none" stroke="#2a66c0" stroke-width="1"/>
<text x="562.2" y="1935.5" font-size="11" fill="#2a66c0" text-anchor="middle" font-weight="normal">W</text>
<line x1="460.0" y1="1948.8" x2="497.8" y2="1948.8" stroke="#2a66c0" stroke-width="1"/>
<line x1="460.0" y1="2119.8" x2="490.3" y2="2119.8" stroke="#2a66c0" stroke-width="1"/>
<line x1="466.2" y1="1948.8" x2="466.2" y2="2119.8" stroke="#2a66c0" stroke-width="1"/>
<polyline points="464.0,1957.8 466.2,1948.8 468.4,1957.8" fill="none" stroke="#2a66c0" stroke-width="1"/>
<polyline points="464.0,2110.8 466.2,2119.8 468.4,2110.8" fill="none" stroke="#2a66c0" stroke-width="1"/>
<text x="463.0" y="2033.0" font-size="11" fill="#2a66c0" text-anchor="middle" font-weight="normal" transform="rotate(-90 463.0 2033.0)">H</text>
<rect x="487.8" y="1986.5" width="149.9" height="30.2" rx="0" fill="none" stroke="#787878" stroke-width="1"/>
<line x1="487.8" y1="1988.6" x2="637.7" y2="1988.6" stroke="#ea4a4e" stroke-width="0.8"/>
<circle cx="493.8" cy="1979.0" r="7" fill="none" stroke="#787878" stroke-width="1"/>
<circle cx="493.8" cy="1979.0" r="3.3" fill="none" stroke="#ea4a4e" stroke-width="0.9"/>
<line x1="484.3" y1="1979.0" x2="503.3" y2="1979.0" stroke="#ea4a4e" stroke-width="0.7"/>
<line x1="493.8" y1="1969.5" x2="493.8" y2="1988.5" stroke="#ea4a4e" stroke-width="0.7"/>
<polyline points="487.8,1986.5 489.3,1983.5 498.3,1983.5 499.8,1986.5" fill="none" stroke="#787878" stroke-width="1"/>
<circle cx="631.0" cy="1979.0" r="7" fill="none" stroke="#787878" stroke-width="1"/>
<circle cx="631.0" cy="1979.0" r="3.3" fill="none" stroke="#ea4a4e" stroke-width="0.9"/>
<line x1="621.5" y1="1979.0" x2="640.5" y2="1979.0" stroke="#ea4a4e" stroke-width="0.7"/>
<line x1="631.0" y1="1969.5" x2="631.0" y2="1988.5" stroke="#ea4a4e" stroke-width="0.7"/>
<polyline points="625.0,1986.5 626.5,1983.5 635.5,1983.5 637.0,1986.5" fill="none" stroke="#787878" stroke-width="1"/>
<rect x="511.2" y="1967.0" width="57.6" height="17.5" rx="0" fill="none" stroke="#787878" stroke-width="1"/>
<line x1="516.0" y1="1967.0" x2="516.0" y2="1980.0" stroke="#555" stroke-width="1.6"/>
<line x1="521.3" y1="1967.0" x2="521.3" y2="1980.0" stroke="#555" stroke-width="1.6"/>
<line x1="526.6" y1="1967.0" x2="526.6" y2="1980.0" stroke="#555" stroke-width="1.6"/>
<line x1="531.9" y1="1967.0" x2="531.9" y2="1980.0" stroke="#555" stroke-width="1.6"/>
<line x1="537.2" y1="1967.0" x2="537.2" y2="1980.0" stroke="#555" stroke-width="1.6"/>
<line x1="542.5" y1="1967.0" x2="542.5" y2="1980.0" stroke="#555" stroke-width="1.6"/>
<line x1="547.8" y1="1967.0" x2="547.8" y2="1980.0" stroke="#555" stroke-width="1.6"/>
<line x1="553.1" y1="1967.0" x2="553.1" y2="1980.0" stroke="#555" stroke-width="1.6"/>
<line x1="558.4" y1="1967.0" x2="558.4" y2="1980.0" stroke="#555" stroke-width="1.6"/>
<line x1="563.7" y1="1967.0" x2="563.7" y2="1980.0" stroke="#555" stroke-width="1.6"/>
<line x1="511.2" y1="1980.0" x2="568.8" y2="1980.0" stroke="#787878" stroke-width="1"/>
<line x1="513.0" y1="1973.7" x2="567.0" y2="1973.7" stroke="#ea4a4e" stroke-width="1" stroke-dasharray="1.6 3.7"/>
<rect x="577.7" y="1966.4" width="37.2" height="17.1" rx="0" fill="none" stroke="#787878" stroke-width="1"/>
<line x1="577.7" y1="1969.0" x2="614.9" y2="1969.0" stroke="#999" stroke-width="0.7"/>
<rect x="506.5" y="1977.0" width="4.7" height="9.5" rx="0" fill="none" stroke="#787878" stroke-width="1"/>
<rect x="568.8" y="1979.0" width="6.2" height="7.5" rx="0" fill="none" stroke="#787878" stroke-width="1"/>
<rect x="614.9" y="1977.0" width="5.1" height="9.5" rx="0" fill="none" stroke="#787878" stroke-width="1"/>
<circle cx="518.8" cy="2004.3" r="4.1" fill="none" stroke="#666" stroke-width="1"/>
<circle cx="518.8" cy="2004.3" r="2" fill="none" stroke="#666" stroke-width="0.8"/>
<line x1="510.8" y1="2004.3" x2="526.8" y2="2004.3" stroke="#ea4a4e" stroke-width="0.8"/>
<line x1="518.8" y1="1996.3" x2="518.8" y2="2012.3" stroke="#ea4a4e" stroke-width="0.8"/>
<circle cx="518.8" cy="2105.4" r="4.1" fill="none" stroke="#666" stroke-width="1"/>
<circle cx="518.8" cy="2105.4" r="2" fill="none" stroke="#666" stroke-width="0.8"/>
<line x1="510.8" y1="2105.4" x2="526.8" y2="2105.4" stroke="#ea4a4e" stroke-width="0.8"/>
<line x1="518.8" y1="2097.4" x2="518.8" y2="2113.4" stroke="#ea4a4e" stroke-width="0.8"/>
<circle cx="606.5" cy="2004.3" r="4.1" fill="none" stroke="#666" stroke-width="1"/>
<circle cx="606.5" cy="2004.3" r="2" fill="none" stroke="#666" stroke-width="0.8"/>
<line x1="598.5" y1="2004.3" x2="614.5" y2="2004.3" stroke="#ea4a4e" stroke-width="0.8"/>
<line x1="606.5" y1="1996.3" x2="606.5" y2="2012.3" stroke="#ea4a4e" stroke-width="0.8"/>
<circle cx="606.5" cy="2105.4" r="4.1" fill="none" stroke="#666" stroke-width="1"/>
<circle cx="606.5" cy="2105.4" r="2" fill="none" stroke="#666" stroke-width="0.8"/>
<line x1="598.5" y1="2105.4" x2="614.5" y2="2105.4" stroke="#ea4a4e" stroke-width="0.8"/>
<line x1="606.5" y1="2097.4" x2="606.5" y2="2113.4" stroke="#ea4a4e" stroke-width="0.8"/>
<rect x="488.8" y="2020.7" width="53.3" height="71.5" rx="4" fill="none" stroke="#787878" stroke-width="1"/>
<rect x="583.4" y="2020.7" width="52.8" height="71.5" rx="4" fill="none" stroke="#787878" stroke-width="1"/>
<rect x="505.4" y="2016.7" width="36.7" height="4.0" rx="0" fill="none" stroke="#787878" stroke-width="1"/>
<rect x="583.4" y="2016.7" width="36.6" height="4.0" rx="0" fill="none" stroke="#787878" stroke-width="1"/>
<rect x="505.4" y="2092.2" width="36.7" height="5.0" rx="0" fill="none" stroke="#787878" stroke-width="1"/>
<rect x="583.4" y="2092.2" width="36.6" height="5.0" rx="0" fill="none" stroke="#787878" stroke-width="1"/>
<line x1="545.6" y1="2016.7" x2="545.6" y2="2097.2" stroke="#787878" stroke-width="1"/>
<line x1="582.4" y1="2016.7" x2="582.4" y2="2097.2" stroke="#787878" stroke-width="1"/>
<line x1="542.1" y1="2088.0" x2="583.4" y2="2088.0" stroke="#999" stroke-width="0.7"/>
<rect x="486.3" y="2097.2" width="152.4" height="19.1" rx="0" fill="none" stroke="#787878" stroke-width="1"/>
<line x1="486.3" y1="2100.0" x2="638.7" y2="2100.0" stroke="#999" stroke-width="0.7"/>
<line x1="488.0" y1="2119.8" x2="637.0" y2="2119.8" stroke="#787878" stroke-width="1"/>
<line x1="488.0" y1="2116.3" x2="488.0" y2="2119.8" stroke="#787878" stroke-width="1"/>
<line x1="637.0" y1="2116.3" x2="637.0" y2="2119.8" stroke="#787878" stroke-width="1"/>
<line x1="563.2" y1="1980.5" x2="563.2" y2="2119.0" stroke="#ea4a4e" stroke-width="0.9" stroke-dasharray="2.5 1.8"/>
<line x1="533.0" y1="2119.8" x2="533.0" y2="2144.0" stroke="#2a66c0" stroke-width="1"/>
<line x1="593.4" y1="2119.8" x2="593.4" y2="2144.0" stroke="#2a66c0" stroke-width="1"/>
<line x1="533.0" y1="2117.0" x2="533.0" y2="2121.5" stroke="#ea4a4e" stroke-width="1.2"/>
<line x1="593.4" y1="2117.0" x2="593.4" y2="2121.5" stroke="#ea4a4e" stroke-width="1.2"/>
<line x1="533.0" y1="2140.4" x2="593.4" y2="2140.4" stroke="#2a66c0" stroke-width="1"/>
<polyline points="542.0,2138.2 533.0,2140.4 542.0,2142.6" fill="none" stroke="#2a66c0" stroke-width="1"/>
<polyline points="584.4,2138.2 593.4,2140.4 584.4,2142.6" fill="none" stroke="#2a66c0" stroke-width="1"/>
<text x="562.2" y="2137.5" font-size="10" fill="#2a66c0" text-anchor="middle" font-weight="normal">w</text>
<polyline points="596.0,2119.8 623.6,2143.0 691.5,2143.0" fill="none" stroke="#2a66c0" stroke-width="1"/>
<polyline points="604.0,2123.0 596.0,2119.8 600.5,2127.0" fill="none" stroke="#2a66c0" stroke-width="1"/>
<text x="636.5" y="2141.0" font-size="10.5" fill="#2a66c0" text-anchor="start" font-weight="normal" textLength="55">4－øS×30</text>
<text x="646.5" y="2078.0" font-size="10" fill="#2a66c0" text-anchor="start" font-weight="normal" textLength="53">M6接地端子</text>
<polyline points="700.0,2080.0 646.2,2080.0 629.6,2103.7" fill="none" stroke="#2a66c0" stroke-width="1"/>
<polyline points="631.0,2096.5 629.6,2103.7 635.0,2099.0" fill="none" stroke="#2a66c0" stroke-width="1"/>
<circle cx="629.6" cy="2104.5" r="1.2" fill="#ea4a4e" stroke="#ea4a4e" stroke-width="0"/>
<text x="637.2" y="2169.5" font-size="11.5" fill="#222" text-anchor="middle" font-weight="normal">図2</text>
<line x1="707.1" y1="1935.7" x2="707.1" y2="1991.6" stroke="#2a66c0" stroke-width="1"/>
<line x1="803.2" y1="1935.7" x2="803.2" y2="1991.6" stroke="#2a66c0" stroke-width="1"/>
<line x1="707.1" y1="1940.2" x2="803.2" y2="1940.2" stroke="#2a66c0" stroke-width="1"/>
<polyline points="716.1,1938.0 707.1,1940.2 716.1,1942.4" fill="none" stroke="#2a66c0" stroke-width="1"/>
<polyline points="794.2,1938.0 803.2,1940.2 794.2,1942.4" fill="none" stroke="#2a66c0" stroke-width="1"/>
<text x="755.4" y="1937.0" font-size="11" fill="#2a66c0" text-anchor="middle" font-weight="normal">D</text>
<path d="M729.5 2020.6 V1993 H722 Q709.4 1993 709.4 1984 Q709.4 1974 722 1974 H729.5" fill="none" stroke="#787878"/>
<path d="M780.5 2020.6 V1993 H788 Q802.3 1993 802.3 1984 Q802.3 1974 788 1974 H780.5" fill="none" stroke="#787878"/>
<path d="M732.5 2020.6 V1996 H722 Q712.4 1996 712.4 1986" fill="none" stroke="#787878" stroke-width=".8"/>
<path d="M777.5 2020.6 V1996 H788 Q799.3 1996 799.3 1986" fill="none" stroke="#787878" stroke-width=".8"/>
<rect x="725.0" y="1968.0" width="22.3" height="17.0" rx="0" fill="none" stroke="#787878" stroke-width="1"/>
<rect x="762.0" y="1968.0" width="21.0" height="17.0" rx="0" fill="none" stroke="#787878" stroke-width="1"/>
<rect x="731.2" y="1976.0" width="10.0" height="9.0" rx="0" fill="none" stroke="#787878" stroke-width="1"/>
<circle cx="736.2" cy="1979.0" r="2.5" fill="none" stroke="#787878" stroke-width="1"/>
<line x1="736.2" y1="1966.0" x2="736.2" y2="1988.0" stroke="#ea4a4e" stroke-width="0.8"/>
<line x1="727.2" y1="1982.5" x2="745.2" y2="1982.5" stroke="#ea4a4e" stroke-width="0.7"/>
<rect x="767.5" y="1976.0" width="10.0" height="9.0" rx="0" fill="none" stroke="#787878" stroke-width="1"/>
<circle cx="772.5" cy="1979.0" r="2.5" fill="none" stroke="#787878" stroke-width="1"/>
<line x1="772.5" y1="1966.0" x2="772.5" y2="1988.0" stroke="#ea4a4e" stroke-width="0.8"/>
<line x1="763.5" y1="1982.5" x2="781.5" y2="1982.5" stroke="#ea4a4e" stroke-width="0.7"/>
<line x1="729.5" y1="1989.4" x2="780.0" y2="1989.4" stroke="#787878" stroke-width="1"/>
<line x1="734.0" y1="1992.0" x2="734.0" y2="2020.0" stroke="#888" stroke-width="0.7"/>
<line x1="776.0" y1="1992.0" x2="776.0" y2="2020.0" stroke="#888" stroke-width="0.7"/>
<line x1="735.8" y1="1996.0" x2="735.8" y2="2020.0" stroke="#888" stroke-width="0.7"/>
<line x1="774.2" y1="1996.0" x2="774.2" y2="2020.0" stroke="#888" stroke-width="0.7"/>
<line x1="737.6" y1="2000.0" x2="737.6" y2="2020.0" stroke="#888" stroke-width="0.7"/>
<line x1="772.4" y1="2000.0" x2="772.4" y2="2020.0" stroke="#888" stroke-width="0.7"/>
<line x1="739.4" y1="2004.0" x2="739.4" y2="2020.0" stroke="#888" stroke-width="0.7"/>
<line x1="770.6" y1="2004.0" x2="770.6" y2="2020.0" stroke="#888" stroke-width="0.7"/>
<line x1="741.2" y1="2008.0" x2="741.2" y2="2020.0" stroke="#888" stroke-width="0.7"/>
<line x1="768.8" y1="2008.0" x2="768.8" y2="2020.0" stroke="#888" stroke-width="0.7"/>
<line x1="743.0" y1="2012.0" x2="743.0" y2="2020.0" stroke="#888" stroke-width="0.7"/>
<line x1="767.0" y1="2012.0" x2="767.0" y2="2020.0" stroke="#888" stroke-width="0.7"/>
<rect x="710.7" y="2020.6" width="88.0" height="67.1" rx="0" fill="none" stroke="#787878" stroke-width="1"/>
<line x1="729.5" y1="2087.7" x2="729.5" y2="2117.6" stroke="#787878" stroke-width="1"/>
<line x1="780.0" y1="2087.7" x2="780.0" y2="2117.6" stroke="#787878" stroke-width="1"/>
<line x1="776.0" y1="2090.0" x2="776.0" y2="2117.0" stroke="#888" stroke-width="0.7"/>
<line x1="774.2" y1="2094.0" x2="774.2" y2="2117.0" stroke="#888" stroke-width="0.7"/>
<line x1="772.4" y1="2098.0" x2="772.4" y2="2117.0" stroke="#888" stroke-width="0.7"/>
<line x1="770.6" y1="2102.0" x2="770.6" y2="2117.0" stroke="#888" stroke-width="0.7"/>
<line x1="768.8" y1="2106.0" x2="768.8" y2="2117.0" stroke="#888" stroke-width="0.7"/>
<line x1="767.0" y1="2110.0" x2="767.0" y2="2117.0" stroke="#888" stroke-width="0.7"/>
<rect x="723.0" y="2001.0" width="6.5" height="8.0" rx="0" fill="none" stroke="#787878" stroke-width="1"/>
<rect x="720.0" y="2002.5" width="3.0" height="5.0" rx="0" fill="none" stroke="#787878" stroke-width="1"/>
<line x1="714.0" y1="2005.0" x2="723.0" y2="2005.0" stroke="#ea4a4e" stroke-width="0.7"/>
<rect x="780.0" y="2001.0" width="6.5" height="8.0" rx="0" fill="none" stroke="#787878" stroke-width="1"/>
<rect x="786.5" y="2002.5" width="3.0" height="5.0" rx="0" fill="none" stroke="#787878" stroke-width="1"/>
<line x1="786.5" y1="2005.0" x2="796.0" y2="2005.0" stroke="#ea4a4e" stroke-width="0.7"/>
<rect x="723.0" y="2101.5" width="6.5" height="8.0" rx="0" fill="none" stroke="#787878" stroke-width="1"/>
<rect x="720.0" y="2103.0" width="3.0" height="5.0" rx="0" fill="none" stroke="#787878" stroke-width="1"/>
<line x1="714.0" y1="2105.5" x2="723.0" y2="2105.5" stroke="#ea4a4e" stroke-width="0.7"/>
<rect x="780.0" y="2101.5" width="6.5" height="8.0" rx="0" fill="none" stroke="#787878" stroke-width="1"/>
<rect x="786.5" y="2103.0" width="3.0" height="5.0" rx="0" fill="none" stroke="#787878" stroke-width="1"/>
<line x1="786.5" y1="2105.5" x2="796.0" y2="2105.5" stroke="#ea4a4e" stroke-width="0.7"/>
<rect x="708.5" y="2117.6" width="92.5" height="2.2" rx="0" fill="none" stroke="#787878" stroke-width="1"/>
<line x1="719.2" y1="2116.0" x2="719.2" y2="2121.0" stroke="#ea4a4e" stroke-width="1.2"/>
<line x1="788.9" y1="2116.0" x2="788.9" y2="2121.0" stroke="#ea4a4e" stroke-width="1.2"/>
<line x1="754.0" y1="1989.4" x2="754.0" y2="2119.0" stroke="#ea4a4e" stroke-width="0.9" stroke-dasharray="2.5 1.8"/>
<line x1="719.2" y1="2119.8" x2="719.2" y2="2143.5" stroke="#2a66c0" stroke-width="1"/>
<line x1="788.9" y1="2119.8" x2="788.9" y2="2143.5" stroke="#2a66c0" stroke-width="1"/>
<line x1="719.2" y1="2139.0" x2="788.9" y2="2139.0" stroke="#2a66c0" stroke-width="1"/>
<polyline points="728.2,2136.8 719.2,2139.0 728.2,2141.2" fill="none" stroke="#2a66c0" stroke-width="1"/>
<polyline points="779.9,2136.8 788.9,2139.0 779.9,2141.2" fill="none" stroke="#2a66c0" stroke-width="1"/>
<text x="754.0" y="2136.0" font-size="10" fill="#2a66c0" text-anchor="middle" font-weight="normal">d</text>
</svg></div>
<div class="ttl" style="top:2280px"><span class="k">ケ</span><span class="k">ー</span><span class="k">ス</span><span class="k">入</span><span class="k">ス</span><span class="k">コ</span><span class="k">ッ</span><span class="k">ト</span><span class="k">変</span><span class="k">圧</span><span class="k">器</span></div>
<div class="badge" style="left:289px;top:2282px;width:100px"><span class="k">標</span><span class="k">準</span><span class="k">在</span><span class="k">庫</span><span class="k">品</span></div>
<div class="ser" style="top:2327.5px;width:343px"><span class="k">単</span><span class="k">二</span><span class="k">型</span>ST2010<span class="k">シ</span><span class="k">リ</span><span class="k">ー</span><span class="k">ズ</span></div>
<div class="box" style="left:359px;top:2329px;width:440px;height:35px;line-height:33px">3ø190,200,210V/1ø2W 100V×2</div>
<div class="ser" style="top:2375.5px;width:343px">ST2115<span class="k">シ</span><span class="k">リ</span><span class="k">ー</span><span class="k">ズ</span></div>
<div class="box" style="left:359px;top:2377px;width:440px;height:35px;line-height:33px">3ø200,210,220V/1ø2W 105V×2</div>
<div class="ser" style="top:2433px;width:352px"><span class="k">単</span><span class="k">三</span><span class="k">型</span>SW2020<span class="k">シ</span><span class="k">リ</span><span class="k">ー</span><span class="k">ズ</span></div>
<div class="box" style="left:368px;top:2435px;width:440px;height:34px;line-height:32px">3ø190,200,210V/1ø3W 200-100V×2</div>
<div class="ser" style="top:2481px;width:352px">SW2121<span class="k">シ</span><span class="k">リ</span><span class="k">ー</span><span class="k">ズ</span></div>
<div class="box" style="left:368px;top:2483px;width:440px;height:34px;line-height:32px">3ø200,210,220V/1ø3W 210-105V×2</div>
<div class="rline" style="top:2534px"></div>
<div class="bul" style="top:2548.5px"><i>●</i><span class="k">ス</span><span class="k">コ</span><span class="k">ッ</span><span class="k">ト</span><span class="k">変</span><span class="k">圧</span><span class="k">器</span><span class="k">で</span><span class="k">シ</span><span class="k">リ</span><span class="k">ー</span><span class="k">ズ</span><span class="k">化</span><span class="k">し</span><span class="k">、</span><span class="k">即</span><span class="k">納</span><span class="k">体</span><span class="k">制</span><span class="k">を</span><span class="k">と</span><span class="k">っ</span><span class="k">て</span><span class="k">お</span><span class="k">り</span><span class="k">ま</span><span class="k">す</span><span class="k">。</span></div>
<div class="cap" style="top:2597.1px">ST <span class="k">【</span>3ø190<span class="k">・</span>200<span class="k">・</span>210V / 1ø100V×2<span class="k">】</span></div>
<table style="left:10.0px;top:2627.5px;width:832.0px"><colgroup><col style="width:129.0px"><col style="width:72.0px"><col style="width:56.5px"><col style="width:55.0px"><col style="width:89.5px"><col style="width:45.8px"><col style="width:45.2px"><col style="width:45.3px"><col style="width:45.7px"><col style="width:45.3px"><col style="width:35.2px"><col style="width:35.0px"><col style="width:51.5px"><col style="width:48.0px"><col style="width:31.0px"></colgroup>
<tr style="height:40.00px"><th rowspan="2"><span class="k">品</span><span class="k">番</span></th><th rowspan="2"><span class="k">容</span><span class="k">量</span></th><th colspan="3"><span class="k">仕</span><span class="k">様</span></th><th colspan="7"><span class="k">外</span><span class="k">形</span><span class="k">寸</span><span class="k">法</span><span class="k">（</span>mm<span class="k">）</span></th><th rowspan="2"><span class="k">重</span><span class="k">量</span><br>(kg)</th><th rowspan="2"><span class="k">絶</span><span class="k">縁</span></th><th rowspan="2"><span class="k">図</span></th></tr><tr style="height:61.80px"><th>1<span class="k">次</span><br><span class="k">電</span><span class="k">圧</span></th><th>2<span class="k">次</span><br><span class="k">電</span><span class="k">圧</span></th><th>2<span class="k">次</span><br><span class="k">電</span><span class="k">流</span></th><th>W</th><th>D</th><th>H</th><th>w</th><th>d</th><th>øS</th><th>øL</th></tr>
<tr style="height:42.75px"><td><u>ST2010-3KC</u></td><td>3kVA</td><td class="w" rowspan="4">190V<br>200V<br>210V</td><td class="w" rowspan="4">100V<br>×2</td><td>15A ×2</td><td>300</td><td>320</td><td>345</td><td>280</td><td>290</td><td>10</td><td>52</td><td>37.0</td><td class="w" rowspan="2"><b>F</b></td><td class="w">1</td></tr>
<tr class="alt" style="height:42.75px"><td><u>ST2010-5KC</u></td><td>5kVA</td><td>25A×2</td><td>350</td><td>300</td><td>435</td><td>310</td><td>250</td><td>11</td><td>52</td><td>61.0</td><td class="w" rowspan="3">2</td></tr>
<tr style="height:42.75px"><td><u>ST2010-7.5KC</u></td><td>7.5kVA</td><td>37.5A×2</td><td>400</td><td>300</td><td>545</td><td>350</td><td>250</td><td>13</td><td>60</td><td>86.5</td><td class="w" rowspan="2"><b>H</b></td></tr>
<tr class="alt" style="height:42.75px"><td><u>ST2010-10KC</u></td><td>10kVA</td><td>50A×2</td><td>400</td><td>300</td><td>545</td><td>350</td><td>250</td><td>13</td><td>60</td><td>105</td></tr>
</table>
<div class="cap" style="top:2937.4px">ST <span class="k">【</span>3ø200<span class="k">・</span>210<span class="k">・</span>220V / 1ø105V×2<span class="k">】</span></div>
<table style="left:10.0px;top:2967.8px;width:832.0px"><colgroup><col style="width:129.0px"><col style="width:72.0px"><col style="width:56.5px"><col style="width:55.0px"><col style="width:89.5px"><col style="width:45.8px"><col style="width:45.2px"><col style="width:45.3px"><col style="width:45.7px"><col style="width:45.3px"><col style="width:35.2px"><col style="width:35.0px"><col style="width:51.5px"><col style="width:48.0px"><col style="width:31.0px"></colgroup>
<tr style="height:40.00px"><th rowspan="2"><span class="k">品</span><span class="k">番</span></th><th rowspan="2"><span class="k">容</span><span class="k">量</span></th><th colspan="3"><span class="k">仕</span><span class="k">様</span></th><th colspan="7"><span class="k">外</span><span class="k">形</span><span class="k">寸</span><span class="k">法</span><span class="k">（</span>mm<span class="k">）</span></th><th rowspan="2"><span class="k">重</span><span class="k">量</span><br>(kg)</th><th rowspan="2"><span class="k">絶</span><span class="k">縁</span></th><th rowspan="2"><span class="k">図</span></th></tr><tr style="height:61.80px"><th>1<span class="k">次</span><br><span class="k">電</span><span class="k">圧</span></th><th>2<span class="k">次</span><br><span class="k">電</span><span class="k">圧</span></th><th>2<span class="k">次</span><br><span class="k">電</span><span class="k">流</span></th><th>W</th><th>D</th><th>H</th><th>w</th><th>d</th><th>øS</th><th>øL</th></tr>
<tr style="height:42.75px"><td><u>ST2115-3KC</u></td><td>3kVA</td><td class="w" rowspan="4">200V<br>210V<br>220V</td><td class="w" rowspan="4">105V<br>×2</td><td>14.3A×2</td><td>300</td><td>320</td><td>345</td><td>280</td><td>290</td><td>10</td><td>52</td><td>37.0</td><td class="w" rowspan="2"><b>F</b></td><td class="w">1</td></tr>
<tr class="alt" style="height:42.75px"><td><u>ST2115-5KC</u></td><td>5kVA</td><td>23.8A×2</td><td>350</td><td>300</td><td>435</td><td>310</td><td>250</td><td>11</td><td>52</td><td>61.0</td><td class="w" rowspan="3">2</td></tr>
<tr style="height:42.75px"><td><u>ST2115-7.5KC</u></td><td>7.5kVA</td><td>35.7A×2</td><td>400</td><td>300</td><td>545</td><td>350</td><td>250</td><td>13</td><td>60</td><td>86.5</td><td class="w" rowspan="2"><b>H</b></td></tr>
<tr class="alt" style="height:42.75px"><td><u>ST2115-10KC</u></td><td>10kVA</td><td>47.6A×2</td><td>400</td><td>300</td><td>545</td><td>350</td><td>250</td><td>13</td><td>60</td><td>105</td></tr>
</table>
<div class="cap" style="top:3278.9px">SW <span class="k">【</span>3ø190<span class="k">・</span>200<span class="k">・</span>210V / 1ø3W 200-100V×2<span class="k">】</span></div>
<table style="left:10.0px;top:3309.3px;width:832.0px"><colgroup><col style="width:134.0px"><col style="width:71.3px"><col style="width:54.7px"><col style="width:54.5px"><col style="width:89.5px"><col style="width:46.0px"><col style="width:45.0px"><col style="width:45.3px"><col style="width:45.3px"><col style="width:45.8px"><col style="width:34.6px"><col style="width:35.0px"><col style="width:50.0px"><col style="width:48.0px"><col style="width:31.0px"></colgroup>
<tr style="height:40.00px"><th rowspan="2"><span class="k">品</span><span class="k">番</span></th><th rowspan="2"><span class="k">容</span><span class="k">量</span></th><th colspan="3"><span class="k">仕</span><span class="k">様</span></th><th colspan="7"><span class="k">外</span><span class="k">形</span><span class="k">寸</span><span class="k">法</span><span class="k">（</span>mm<span class="k">）</span></th><th rowspan="2"><span class="k">重</span><span class="k">量</span><br>(kg)</th><th rowspan="2"><span class="k">絶</span><span class="k">縁</span></th><th rowspan="2"><span class="k">図</span></th></tr><tr style="height:61.80px"><th>1<span class="k">次</span><br><span class="k">電</span><span class="k">圧</span></th><th>2<span class="k">次</span><br><span class="k">電</span><span class="k">圧</span></th><th>2<span class="k">次</span><br><span class="k">電</span><span class="k">流</span></th><th>W</th><th>D</th><th>H</th><th>w</th><th>d</th><th>øS</th><th>øL</th></tr>
<tr style="height:42.75px"><td><u>SW2020-5KC</u></td><td>5kVA</td><td class="w" rowspan="3">190V<br>200V<br>210V</td><td class="w" rowspan="3">200-<br>100V<br>×2</td><td>12.5A×2</td><td>350</td><td>300</td><td>435</td><td>310</td><td>250</td><td>11</td><td>52</td><td>60.5</td><td class="w">F</td><td class="w" rowspan="3">2</td></tr>
<tr class="alt" style="height:42.75px"><td><u>SW2020-7.5KC</u></td><td>7.5kVA</td><td>18.8A×2</td><td>400</td><td>300</td><td>545</td><td>350</td><td>250</td><td>13</td><td>60</td><td>87.5</td><td class="w" rowspan="2">H</td></tr>
<tr style="height:42.75px"><td><u>SW2020-10KC</u></td><td>10kVA</td><td>25A×2</td><td>400</td><td>300</td><td>545</td><td>350</td><td>250</td><td>13</td><td>60</td><td>104</td></tr>
</table>
<div class="cap" style="top:3576.7999999999997px">SW <span class="k">【</span>3ø200<span class="k">・</span>210<span class="k">・</span>220V / 1ø3W 210-105V×2<span class="k">】</span></div>
<table style="left:10.0px;top:3607.2px;width:832.0px"><colgroup><col style="width:134.0px"><col style="width:71.3px"><col style="width:54.7px"><col style="width:54.5px"><col style="width:89.5px"><col style="width:46.0px"><col style="width:45.0px"><col style="width:45.3px"><col style="width:45.3px"><col style="width:45.8px"><col style="width:34.6px"><col style="width:35.0px"><col style="width:50.0px"><col style="width:48.0px"><col style="width:31.0px"></colgroup>
<tr style="height:40.00px"><th rowspan="2"><span class="k">品</span><span class="k">番</span></th><th rowspan="2"><span class="k">容</span><span class="k">量</span></th><th colspan="3"><span class="k">仕</span><span class="k">様</span></th><th colspan="7"><span class="k">外</span><span class="k">形</span><span class="k">寸</span><span class="k">法</span><span class="k">（</span>mm<span class="k">）</span></th><th rowspan="2"><span class="k">重</span><span class="k">量</span><br>(kg)</th><th rowspan="2"><span class="k">絶</span><span class="k">縁</span></th><th rowspan="2"><span class="k">図</span></th></tr><tr style="height:61.80px"><th>1<span class="k">次</span><br><span class="k">電</span><span class="k">圧</span></th><th>2<span class="k">次</span><br><span class="k">電</span><span class="k">圧</span></th><th>2<span class="k">次</span><br><span class="k">電</span><span class="k">流</span></th><th>W</th><th>D</th><th>H</th><th>w</th><th>d</th><th>øS</th><th>øL</th></tr>
<tr style="height:42.75px"><td><u>SW2121-5KC</u></td><td>5kVA</td><td class="w" rowspan="3">200V<br>210V<br>220V</td><td class="w" rowspan="3">210-<br>105V<br>×2</td><td>11.9A×2</td><td>350</td><td>300</td><td>435</td><td>310</td><td>250</td><td>11</td><td>52</td><td>60.5</td><td class="w">F</td><td class="w" rowspan="3">2</td></tr>
<tr class="alt" style="height:42.75px"><td><u>SW2121-7.5KC</u></td><td>7.5kVA</td><td>17.9A×2</td><td>400</td><td>300</td><td>545</td><td>350</td><td>250</td><td>13</td><td>60</td><td>87.5</td><td class="w" rowspan="2">H</td></tr>
<tr style="height:42.75px"><td><u>SW2121-10KC</u></td><td>10kVA</td><td>23.8A×2</td><td>400</td><td>300</td><td>545</td><td>350</td><td>250</td><td>13</td><td>60</td><td>104</td></tr>
</table>
<div class="note" style="top:3843px"><span class="k">※</span><span class="k">ケ</span><span class="k">ー</span><span class="k">ス</span><span class="k">塗</span><span class="k">装</span><span class="k">色</span> 5Y7/1 <span class="k">に</span><span class="k">な</span><span class="k">り</span><span class="k">ま</span><span class="k">す</span><span class="k">。</span></div>
<div class="wb" style="top:3896px;height:340px"><svg width="832" height="340" viewBox="10 3896 832 340" style="position:absolute;left:0;top:0;font-family:'Liberation Sans',sans-serif">
<line x1="52.2" y1="4011.1" x2="96.9" y2="4011.1" stroke="#2a66c0" stroke-width="1"/>
<line x1="52.2" y1="4131.3" x2="78.6" y2="4131.3" stroke="#2a66c0" stroke-width="1"/>
<line x1="58.3" y1="4011.1" x2="58.3" y2="4131.3" stroke="#2a66c0" stroke-width="1"/>
<polyline points="56.1,4020.1 58.3,4011.1 60.5,4020.1" fill="none" stroke="#2a66c0" stroke-width="1"/>
<polyline points="56.1,4122.3 58.3,4131.3 60.5,4122.3" fill="none" stroke="#2a66c0" stroke-width="1"/>
<text x="56.0" y="4071.2" font-size="11" fill="#2a66c0" text-anchor="middle" transform="rotate(-90 56.0 4071.2)">H</text>
<rect x="86.7" y="4030.6" width="97.5" height="97.5" rx="0" fill="none" stroke="#787878" stroke-width="1"/>
<line x1="88.7" y1="4030.6" x2="88.7" y2="4128.1" stroke="#999" stroke-width="0.8"/>
<line x1="182.2" y1="4030.6" x2="182.2" y2="4128.1" stroke="#999" stroke-width="0.8"/>
<line x1="86.7" y1="4032.0" x2="184.2" y2="4032.0" stroke="#888" stroke-width="0.8"/>
<rect x="93.3" y="4011.0" width="3.0" height="19.6" rx="0" fill="none" stroke="#ea4a4e" stroke-width="0.9"/>
<line x1="93.3" y1="4014.0" x2="96.3" y2="4014.0" stroke="#ea4a4e" stroke-width="0.6"/>
<line x1="93.3" y1="4017.0" x2="96.3" y2="4017.0" stroke="#ea4a4e" stroke-width="0.6"/>
<rect x="91.8" y="4027.5" width="6.0" height="3.1" rx="0" fill="none" stroke="#787878" stroke-width="0.8"/>
<rect x="175.8" y="4011.0" width="3.0" height="19.6" rx="0" fill="none" stroke="#ea4a4e" stroke-width="0.9"/>
<line x1="175.8" y1="4014.0" x2="178.8" y2="4014.0" stroke="#ea4a4e" stroke-width="0.6"/>
<line x1="175.8" y1="4017.0" x2="178.8" y2="4017.0" stroke="#ea4a4e" stroke-width="0.6"/>
<rect x="174.3" y="4027.5" width="6.0" height="3.1" rx="0" fill="none" stroke="#787878" stroke-width="0.8"/>
<circle cx="136.3" cy="4041.6" r="8.1" fill="#fff" stroke="#555" stroke-width="1"/>
<line x1="136.3" y1="4030.6" x2="136.3" y2="4131.3" stroke="#ea4a4e" stroke-width="0.9" stroke-dasharray="2.5 1.8"/>
<rect x="77.4" y="4128.1" width="116.9" height="3.2" rx="0" fill="none" stroke="#787878" stroke-width="1"/>
<text x="158.0" y="4000.0" font-size="10.5" fill="#2a66c0" text-anchor="start" textLength="81">ケーブルホールøL</text>
<path d="M239 4002.2 H143.6 C140.5 4012 138.5 4022 137.5 4032.6" fill="none" stroke="#2a66c0"/>
<polyline points="136.2,4025.0 137.5,4032.6 140.3,4025.5" fill="none" stroke="#2a66c0" stroke-width="1"/>
<line x1="77.4" y1="4131.3" x2="77.4" y2="4170.7" stroke="#2a66c0" stroke-width="1"/>
<line x1="82.6" y1="4131.3" x2="82.6" y2="4156.5" stroke="#2a66c0" stroke-width="1"/>
<line x1="190.3" y1="4131.3" x2="190.3" y2="4156.5" stroke="#2a66c0" stroke-width="1"/>
<line x1="194.3" y1="4131.3" x2="194.3" y2="4170.7" stroke="#2a66c0" stroke-width="1"/>
<line x1="82.6" y1="4152.5" x2="190.3" y2="4152.5" stroke="#2a66c0" stroke-width="1"/>
<polyline points="91.6,4150.3 82.6,4152.5 91.6,4154.7" fill="none" stroke="#2a66c0" stroke-width="1"/>
<polyline points="181.3,4150.3 190.3,4152.5 181.3,4154.7" fill="none" stroke="#2a66c0" stroke-width="1"/>
<text x="136.3" y="4149.5" font-size="10" fill="#2a66c0" text-anchor="middle">w</text>
<line x1="77.4" y1="4167.5" x2="194.3" y2="4167.5" stroke="#2a66c0" stroke-width="1"/>
<polyline points="86.4,4165.3 77.4,4167.5 86.4,4169.7" fill="none" stroke="#2a66c0" stroke-width="1"/>
<polyline points="185.3,4165.3 194.3,4167.5 185.3,4169.7" fill="none" stroke="#2a66c0" stroke-width="1"/>
<text x="136.3" y="4165.0" font-size="10.5" fill="#2a66c0" text-anchor="middle">W</text>
<text x="217.5" y="4154.0" font-size="10.5" fill="#2a66c0" text-anchor="start" textLength="30">4－øS</text>
<polyline points="247.2,4156.5 202.5,4156.5 191.5,4132.2" fill="none" stroke="#2a66c0" stroke-width="1"/>
<polyline points="192.2,4140.0 191.5,4132.2 196.5,4138.0" fill="none" stroke="#2a66c0" stroke-width="1"/>
<text x="210.6" y="4196.0" font-size="11.5" fill="#222" text-anchor="middle">図1</text>
<rect x="258.4" y="4029.8" width="101.6" height="98.3" rx="0" fill="none" stroke="#787878" stroke-width="1"/>
<rect x="258.4" y="4128.1" width="101.6" height="3.2" rx="0" fill="none" stroke="#787878" stroke-width="1"/>
<path d="M284.8 4029.8 V4020 Q284.8 4012.3 292.5 4012.3 H327 Q334.8 4012.3 334.8 4020 V4029.8" fill="none" stroke="#787878"/>
<path d="M288.8 4029.8 V4021 Q288.8 4016.3 293.5 4016.3 H326 Q330.8 4016.3 330.8 4021 V4029.8" fill="none" stroke="#787878"/>
<rect x="262.3" y="4032.6" width="2.1" height="10.4" rx="0" fill="none" stroke="#5a5a5a" stroke-width="0.8"/>
<rect x="265.8" y="4032.6" width="2.1" height="10.4" rx="0" fill="none" stroke="#5a5a5a" stroke-width="0.8"/>
<rect x="269.2" y="4032.6" width="2.1" height="10.4" rx="0" fill="none" stroke="#5a5a5a" stroke-width="0.8"/>
<rect x="272.7" y="4032.6" width="2.1" height="10.4" rx="0" fill="none" stroke="#5a5a5a" stroke-width="0.8"/>
<rect x="276.2" y="4032.6" width="2.1" height="10.4" rx="0" fill="none" stroke="#5a5a5a" stroke-width="0.8"/>
<rect x="279.6" y="4032.6" width="2.1" height="10.4" rx="0" fill="none" stroke="#5a5a5a" stroke-width="0.8"/>
<rect x="283.1" y="4032.6" width="2.1" height="10.4" rx="0" fill="none" stroke="#5a5a5a" stroke-width="0.8"/>
<rect x="286.6" y="4032.6" width="2.1" height="10.4" rx="0" fill="none" stroke="#5a5a5a" stroke-width="0.8"/>
<rect x="290.1" y="4032.6" width="2.1" height="10.4" rx="0" fill="none" stroke="#5a5a5a" stroke-width="0.8"/>
<rect x="293.5" y="4032.6" width="2.1" height="10.4" rx="0" fill="none" stroke="#5a5a5a" stroke-width="0.8"/>
<rect x="297.0" y="4032.6" width="2.1" height="10.4" rx="0" fill="none" stroke="#5a5a5a" stroke-width="0.8"/>
<rect x="300.5" y="4032.6" width="2.1" height="10.4" rx="0" fill="none" stroke="#5a5a5a" stroke-width="0.8"/>
<rect x="303.9" y="4032.6" width="2.1" height="10.4" rx="0" fill="none" stroke="#5a5a5a" stroke-width="0.8"/>
<rect x="307.4" y="4032.6" width="2.1" height="10.4" rx="0" fill="none" stroke="#5a5a5a" stroke-width="0.8"/>
<rect x="310.9" y="4032.6" width="2.1" height="10.4" rx="0" fill="none" stroke="#5a5a5a" stroke-width="0.8"/>
<rect x="314.3" y="4032.6" width="2.1" height="10.4" rx="0" fill="none" stroke="#5a5a5a" stroke-width="0.8"/>
<rect x="317.8" y="4032.6" width="2.1" height="10.4" rx="0" fill="none" stroke="#5a5a5a" stroke-width="0.8"/>
<rect x="321.3" y="4032.6" width="2.1" height="10.4" rx="0" fill="none" stroke="#5a5a5a" stroke-width="0.8"/>
<rect x="324.7" y="4032.6" width="2.1" height="10.4" rx="0" fill="none" stroke="#5a5a5a" stroke-width="0.8"/>
<rect x="328.2" y="4032.6" width="2.1" height="10.4" rx="0" fill="none" stroke="#5a5a5a" stroke-width="0.8"/>
<rect x="331.7" y="4032.6" width="2.1" height="10.4" rx="0" fill="none" stroke="#5a5a5a" stroke-width="0.8"/>
<rect x="335.2" y="4032.6" width="2.1" height="10.4" rx="0" fill="none" stroke="#5a5a5a" stroke-width="0.8"/>
<rect x="338.6" y="4032.6" width="2.1" height="10.4" rx="0" fill="none" stroke="#5a5a5a" stroke-width="0.8"/>
<rect x="342.1" y="4032.6" width="2.1" height="10.4" rx="0" fill="none" stroke="#5a5a5a" stroke-width="0.8"/>
<rect x="345.6" y="4032.6" width="2.1" height="10.4" rx="0" fill="none" stroke="#5a5a5a" stroke-width="0.8"/>
<rect x="349.0" y="4032.6" width="2.1" height="10.4" rx="0" fill="none" stroke="#5a5a5a" stroke-width="0.8"/>
<rect x="352.5" y="4032.6" width="2.1" height="10.4" rx="0" fill="none" stroke="#5a5a5a" stroke-width="0.8"/>
<rect x="262.3" y="4045.3" width="2.1" height="10.5" rx="0" fill="none" stroke="#5a5a5a" stroke-width="0.8"/>
<rect x="265.8" y="4045.3" width="2.1" height="10.5" rx="0" fill="none" stroke="#5a5a5a" stroke-width="0.8"/>
<rect x="269.2" y="4045.3" width="2.1" height="10.5" rx="0" fill="none" stroke="#5a5a5a" stroke-width="0.8"/>
<rect x="272.7" y="4045.3" width="2.1" height="10.5" rx="0" fill="none" stroke="#5a5a5a" stroke-width="0.8"/>
<rect x="276.2" y="4045.3" width="2.1" height="10.5" rx="0" fill="none" stroke="#5a5a5a" stroke-width="0.8"/>
<rect x="279.6" y="4045.3" width="2.1" height="10.5" rx="0" fill="none" stroke="#5a5a5a" stroke-width="0.8"/>
<rect x="283.1" y="4045.3" width="2.1" height="10.5" rx="0" fill="none" stroke="#5a5a5a" stroke-width="0.8"/>
<rect x="286.6" y="4045.3" width="2.1" height="10.5" rx="0" fill="none" stroke="#5a5a5a" stroke-width="0.8"/>
<rect x="290.1" y="4045.3" width="2.1" height="10.5" rx="0" fill="none" stroke="#5a5a5a" stroke-width="0.8"/>
<rect x="293.5" y="4045.3" width="2.1" height="10.5" rx="0" fill="none" stroke="#5a5a5a" stroke-width="0.8"/>
<rect x="297.0" y="4045.3" width="2.1" height="10.5" rx="0" fill="none" stroke="#5a5a5a" stroke-width="0.8"/>
<rect x="300.5" y="4045.3" width="2.1" height="10.5" rx="0" fill="none" stroke="#5a5a5a" stroke-width="0.8"/>
<rect x="303.9" y="4045.3" width="2.1" height="10.5" rx="0" fill="none" stroke="#5a5a5a" stroke-width="0.8"/>
<rect x="307.4" y="4045.3" width="2.1" height="10.5" rx="0" fill="none" stroke="#5a5a5a" stroke-width="0.8"/>
<rect x="310.9" y="4045.3" width="2.1" height="10.5" rx="0" fill="none" stroke="#5a5a5a" stroke-width="0.8"/>
<rect x="314.3" y="4045.3" width="2.1" height="10.5" rx="0" fill="none" stroke="#5a5a5a" stroke-width="0.8"/>
<rect x="317.8" y="4045.3" width="2.1" height="10.5" rx="0" fill="none" stroke="#5a5a5a" stroke-width="0.8"/>
<rect x="321.3" y="4045.3" width="2.1" height="10.5" rx="0" fill="none" stroke="#5a5a5a" stroke-width="0.8"/>
<rect x="324.7" y="4045.3" width="2.1" height="10.5" rx="0" fill="none" stroke="#5a5a5a" stroke-width="0.8"/>
<rect x="328.2" y="4045.3" width="2.1" height="10.5" rx="0" fill="none" stroke="#5a5a5a" stroke-width="0.8"/>
<rect x="331.7" y="4045.3" width="2.1" height="10.5" rx="0" fill="none" stroke="#5a5a5a" stroke-width="0.8"/>
<rect x="335.2" y="4045.3" width="2.1" height="10.5" rx="0" fill="none" stroke="#5a5a5a" stroke-width="0.8"/>
<rect x="338.6" y="4045.3" width="2.1" height="10.5" rx="0" fill="none" stroke="#5a5a5a" stroke-width="0.8"/>
<rect x="342.1" y="4045.3" width="2.1" height="10.5" rx="0" fill="none" stroke="#5a5a5a" stroke-width="0.8"/>
<rect x="345.6" y="4045.3" width="2.1" height="10.5" rx="0" fill="none" stroke="#5a5a5a" stroke-width="0.8"/>
<rect x="349.0" y="4045.3" width="2.1" height="10.5" rx="0" fill="none" stroke="#5a5a5a" stroke-width="0.8"/>
<rect x="352.5" y="4045.3" width="2.1" height="10.5" rx="0" fill="none" stroke="#5a5a5a" stroke-width="0.8"/>
<rect x="262.3" y="4099.4" width="2.1" height="10.8" rx="0" fill="none" stroke="#5a5a5a" stroke-width="0.8"/>
<rect x="265.8" y="4099.4" width="2.1" height="10.8" rx="0" fill="none" stroke="#5a5a5a" stroke-width="0.8"/>
<rect x="269.2" y="4099.4" width="2.1" height="10.8" rx="0" fill="none" stroke="#5a5a5a" stroke-width="0.8"/>
<rect x="272.7" y="4099.4" width="2.1" height="10.8" rx="0" fill="none" stroke="#5a5a5a" stroke-width="0.8"/>
<rect x="276.2" y="4099.4" width="2.1" height="10.8" rx="0" fill="none" stroke="#5a5a5a" stroke-width="0.8"/>
<rect x="279.6" y="4099.4" width="2.1" height="10.8" rx="0" fill="none" stroke="#5a5a5a" stroke-width="0.8"/>
<rect x="283.1" y="4099.4" width="2.1" height="10.8" rx="0" fill="none" stroke="#5a5a5a" stroke-width="0.8"/>
<rect x="286.6" y="4099.4" width="2.1" height="10.8" rx="0" fill="none" stroke="#5a5a5a" stroke-width="0.8"/>
<rect x="290.1" y="4099.4" width="2.1" height="10.8" rx="0" fill="none" stroke="#5a5a5a" stroke-width="0.8"/>
<rect x="293.5" y="4099.4" width="2.1" height="10.8" rx="0" fill="none" stroke="#5a5a5a" stroke-width="0.8"/>
<rect x="297.0" y="4099.4" width="2.1" height="10.8" rx="0" fill="none" stroke="#5a5a5a" stroke-width="0.8"/>
<rect x="300.5" y="4099.4" width="2.1" height="10.8" rx="0" fill="none" stroke="#5a5a5a" stroke-width="0.8"/>
<rect x="303.9" y="4099.4" width="2.1" height="10.8" rx="0" fill="none" stroke="#5a5a5a" stroke-width="0.8"/>
<rect x="307.4" y="4099.4" width="2.1" height="10.8" rx="0" fill="none" stroke="#5a5a5a" stroke-width="0.8"/>
<rect x="310.9" y="4099.4" width="2.1" height="10.8" rx="0" fill="none" stroke="#5a5a5a" stroke-width="0.8"/>
<rect x="314.3" y="4099.4" width="2.1" height="10.8" rx="0" fill="none" stroke="#5a5a5a" stroke-width="0.8"/>
<rect x="317.8" y="4099.4" width="2.1" height="10.8" rx="0" fill="none" stroke="#5a5a5a" stroke-width="0.8"/>
<rect x="321.3" y="4099.4" width="2.1" height="10.8" rx="0" fill="none" stroke="#5a5a5a" stroke-width="0.8"/>
<rect x="324.7" y="4099.4" width="2.1" height="10.8" rx="0" fill="none" stroke="#5a5a5a" stroke-width="0.8"/>
<rect x="328.2" y="4099.4" width="2.1" height="10.8" rx="0" fill="none" stroke="#5a5a5a" stroke-width="0.8"/>
<rect x="331.7" y="4099.4" width="2.1" height="10.8" rx="0" fill="none" stroke="#5a5a5a" stroke-width="0.8"/>
<rect x="335.2" y="4099.4" width="2.1" height="10.8" rx="0" fill="none" stroke="#5a5a5a" stroke-width="0.8"/>
<rect x="338.6" y="4099.4" width="2.1" height="10.8" rx="0" fill="none" stroke="#5a5a5a" stroke-width="0.8"/>
<rect x="342.1" y="4099.4" width="2.1" height="10.8" rx="0" fill="none" stroke="#5a5a5a" stroke-width="0.8"/>
<rect x="345.6" y="4099.4" width="2.1" height="10.8" rx="0" fill="none" stroke="#5a5a5a" stroke-width="0.8"/>
<rect x="349.0" y="4099.4" width="2.1" height="10.8" rx="0" fill="none" stroke="#5a5a5a" stroke-width="0.8"/>
<rect x="352.5" y="4099.4" width="2.1" height="10.8" rx="0" fill="none" stroke="#5a5a5a" stroke-width="0.8"/>
<rect x="262.3" y="4112.2" width="2.1" height="10.6" rx="0" fill="none" stroke="#5a5a5a" stroke-width="0.8"/>
<rect x="265.8" y="4112.2" width="2.1" height="10.6" rx="0" fill="none" stroke="#5a5a5a" stroke-width="0.8"/>
<rect x="269.2" y="4112.2" width="2.1" height="10.6" rx="0" fill="none" stroke="#5a5a5a" stroke-width="0.8"/>
<rect x="272.7" y="4112.2" width="2.1" height="10.6" rx="0" fill="none" stroke="#5a5a5a" stroke-width="0.8"/>
<rect x="276.2" y="4112.2" width="2.1" height="10.6" rx="0" fill="none" stroke="#5a5a5a" stroke-width="0.8"/>
<rect x="279.6" y="4112.2" width="2.1" height="10.6" rx="0" fill="none" stroke="#5a5a5a" stroke-width="0.8"/>
<rect x="283.1" y="4112.2" width="2.1" height="10.6" rx="0" fill="none" stroke="#5a5a5a" stroke-width="0.8"/>
<rect x="286.6" y="4112.2" width="2.1" height="10.6" rx="0" fill="none" stroke="#5a5a5a" stroke-width="0.8"/>
<rect x="290.1" y="4112.2" width="2.1" height="10.6" rx="0" fill="none" stroke="#5a5a5a" stroke-width="0.8"/>
<rect x="293.5" y="4112.2" width="2.1" height="10.6" rx="0" fill="none" stroke="#5a5a5a" stroke-width="0.8"/>
<rect x="297.0" y="4112.2" width="2.1" height="10.6" rx="0" fill="none" stroke="#5a5a5a" stroke-width="0.8"/>
<rect x="300.5" y="4112.2" width="2.1" height="10.6" rx="0" fill="none" stroke="#5a5a5a" stroke-width="0.8"/>
<rect x="303.9" y="4112.2" width="2.1" height="10.6" rx="0" fill="none" stroke="#5a5a5a" stroke-width="0.8"/>
<rect x="307.4" y="4112.2" width="2.1" height="10.6" rx="0" fill="none" stroke="#5a5a5a" stroke-width="0.8"/>
<rect x="310.9" y="4112.2" width="2.1" height="10.6" rx="0" fill="none" stroke="#5a5a5a" stroke-width="0.8"/>
<rect x="314.3" y="4112.2" width="2.1" height="10.6" rx="0" fill="none" stroke="#5a5a5a" stroke-width="0.8"/>
<rect x="317.8" y="4112.2" width="2.1" height="10.6" rx="0" fill="none" stroke="#5a5a5a" stroke-width="0.8"/>
<rect x="321.3" y="4112.2" width="2.1" height="10.6" rx="0" fill="none" stroke="#5a5a5a" stroke-width="0.8"/>
<rect x="324.7" y="4112.2" width="2.1" height="10.6" rx="0" fill="none" stroke="#5a5a5a" stroke-width="0.8"/>
<rect x="328.2" y="4112.2" width="2.1" height="10.6" rx="0" fill="none" stroke="#5a5a5a" stroke-width="0.8"/>
<rect x="331.7" y="4112.2" width="2.1" height="10.6" rx="0" fill="none" stroke="#5a5a5a" stroke-width="0.8"/>
<rect x="335.2" y="4112.2" width="2.1" height="10.6" rx="0" fill="none" stroke="#5a5a5a" stroke-width="0.8"/>
<rect x="338.6" y="4112.2" width="2.1" height="10.6" rx="0" fill="none" stroke="#5a5a5a" stroke-width="0.8"/>
<rect x="342.1" y="4112.2" width="2.1" height="10.6" rx="0" fill="none" stroke="#5a5a5a" stroke-width="0.8"/>
<rect x="345.6" y="4112.2" width="2.1" height="10.6" rx="0" fill="none" stroke="#5a5a5a" stroke-width="0.8"/>
<rect x="349.0" y="4112.2" width="2.1" height="10.6" rx="0" fill="none" stroke="#5a5a5a" stroke-width="0.8"/>
<rect x="352.5" y="4112.2" width="2.1" height="10.6" rx="0" fill="none" stroke="#5a5a5a" stroke-width="0.8"/>
<rect x="284.4" y="4028.6" width="4.0" height="1.4" rx="0" fill="#444" stroke="#444" stroke-width="1"/>
<rect x="330.2" y="4028.6" width="4.0" height="1.4" rx="0" fill="#444" stroke="#444" stroke-width="1"/>
<line x1="309.2" y1="4029.8" x2="309.2" y2="4131.3" stroke="#ea4a4e" stroke-width="0.9" stroke-dasharray="2.5 1.8"/>
<line x1="258.4" y1="4131.3" x2="258.4" y2="4170.7" stroke="#2a66c0" stroke-width="1"/>
<line x1="264.5" y1="4131.3" x2="264.5" y2="4156.5" stroke="#2a66c0" stroke-width="1"/>
<line x1="353.1" y1="4131.3" x2="353.1" y2="4156.5" stroke="#2a66c0" stroke-width="1"/>
<line x1="360.0" y1="4131.3" x2="360.0" y2="4170.7" stroke="#2a66c0" stroke-width="1"/>
<line x1="264.5" y1="4152.5" x2="353.1" y2="4152.5" stroke="#2a66c0" stroke-width="1"/>
<polyline points="273.5,4150.3 264.5,4152.5 273.5,4154.7" fill="none" stroke="#2a66c0" stroke-width="1"/>
<polyline points="344.1,4150.3 353.1,4152.5 344.1,4154.7" fill="none" stroke="#2a66c0" stroke-width="1"/>
<text x="309.2" y="4149.5" font-size="10" fill="#2a66c0" text-anchor="middle">d</text>
<line x1="258.4" y1="4167.5" x2="360.0" y2="4167.5" stroke="#2a66c0" stroke-width="1"/>
<polyline points="267.4,4165.3 258.4,4167.5 267.4,4169.7" fill="none" stroke="#2a66c0" stroke-width="1"/>
<polyline points="351.0,4165.3 360.0,4167.5 351.0,4169.7" fill="none" stroke="#2a66c0" stroke-width="1"/>
<text x="309.2" y="4165.0" font-size="10.5" fill="#2a66c0" text-anchor="middle">D</text>
<line x1="439.4" y1="3967.7" x2="474.7" y2="3967.7" stroke="#2a66c0" stroke-width="1"/>
<line x1="439.4" y1="4131.5" x2="472.6" y2="4131.5" stroke="#2a66c0" stroke-width="1"/>
<line x1="443.6" y1="3967.7" x2="443.6" y2="4131.5" stroke="#2a66c0" stroke-width="1"/>
<polyline points="441.4,3976.7 443.6,3967.7 445.8,3976.7" fill="none" stroke="#2a66c0" stroke-width="1"/>
<polyline points="441.4,4122.5 443.6,4131.5 445.8,4122.5" fill="none" stroke="#2a66c0" stroke-width="1"/>
<text x="441.0" y="4049.8" font-size="11" fill="#2a66c0" text-anchor="middle" transform="rotate(-90 441.0 4049.8)">H</text>
<rect x="470.4" y="3981.7" width="108.5" height="134.0" rx="0" fill="none" stroke="#787878" stroke-width="1"/>
<line x1="470.4" y1="3983.5" x2="578.9" y2="3983.5" stroke="#999" stroke-width="0.8"/>
<rect x="501.5" y="3971.1" width="47.6" height="10.6" rx="0" fill="none" stroke="#787878" stroke-width="1"/>
<line x1="505.7" y1="3974.0" x2="505.7" y2="3981.7" stroke="#787878" stroke-width="1"/>
<line x1="544.9" y1="3974.0" x2="544.9" y2="3981.7" stroke="#787878" stroke-width="1"/>
<line x1="505.7" y1="3974.0" x2="544.9" y2="3974.0" stroke="#787878" stroke-width="1"/>
<circle cx="478.9" cy="3974.6" r="6.2" fill="none" stroke="#666" stroke-width="1"/>
<circle cx="478.9" cy="3974.6" r="3" fill="none" stroke="#ea4a4e" stroke-width="0.9"/>
<line x1="470.4" y1="3974.6" x2="487.4" y2="3974.6" stroke="#ea4a4e" stroke-width="0.8"/>
<line x1="478.9" y1="3966.0" x2="478.9" y2="3983.0" stroke="#ea4a4e" stroke-width="0.8"/>
<line x1="473.9" y1="3981.2" x2="483.9" y2="3981.2" stroke="#555" stroke-width="1.2"/>
<circle cx="571.1" cy="3974.6" r="6.2" fill="none" stroke="#666" stroke-width="1"/>
<circle cx="571.1" cy="3974.6" r="3" fill="none" stroke="#ea4a4e" stroke-width="0.9"/>
<line x1="562.6" y1="3974.6" x2="579.6" y2="3974.6" stroke="#ea4a4e" stroke-width="0.8"/>
<line x1="571.1" y1="3966.0" x2="571.1" y2="3983.0" stroke="#ea4a4e" stroke-width="0.8"/>
<line x1="566.1" y1="3981.2" x2="576.1" y2="3981.2" stroke="#555" stroke-width="1.2"/>
<circle cx="489.7" cy="3998.2" r="10.7" fill="#fff" stroke="#505050" stroke-width="1"/>
<rect x="502.2" y="3988.2" width="4.6" height="20.1" rx="0.6" fill="none" stroke="#505050" stroke-width="1"/>
<rect x="510.3" y="3988.2" width="4.6" height="20.1" rx="0.6" fill="none" stroke="#505050" stroke-width="1"/>
<rect x="518.5" y="3988.2" width="4.6" height="20.1" rx="0.6" fill="none" stroke="#505050" stroke-width="1"/>
<rect x="526.6" y="3988.2" width="4.6" height="20.1" rx="0.6" fill="none" stroke="#505050" stroke-width="1"/>
<rect x="534.8" y="3988.2" width="4.6" height="20.1" rx="0.6" fill="none" stroke="#505050" stroke-width="1"/>
<rect x="542.9" y="3988.2" width="4.6" height="20.1" rx="0.6" fill="none" stroke="#505050" stroke-width="1"/>
<rect x="551.0" y="3988.2" width="4.6" height="20.1" rx="0.6" fill="none" stroke="#505050" stroke-width="1"/>
<rect x="559.2" y="3988.2" width="4.6" height="20.1" rx="0.6" fill="none" stroke="#505050" stroke-width="1"/>
<rect x="567.3" y="3988.2" width="4.6" height="20.1" rx="0.6" fill="none" stroke="#505050" stroke-width="1"/>
<rect x="478.9" y="4016.6" width="4.6" height="20.1" rx="0.6" fill="none" stroke="#505050" stroke-width="1"/>
<rect x="486.9" y="4016.6" width="4.6" height="20.1" rx="0.6" fill="none" stroke="#505050" stroke-width="1"/>
<rect x="495.0" y="4016.6" width="4.6" height="20.1" rx="0.6" fill="none" stroke="#505050" stroke-width="1"/>
<rect x="503.0" y="4016.6" width="4.6" height="20.1" rx="0.6" fill="none" stroke="#505050" stroke-width="1"/>
<rect x="511.0" y="4016.6" width="4.6" height="20.1" rx="0.6" fill="none" stroke="#505050" stroke-width="1"/>
<rect x="519.1" y="4016.6" width="4.6" height="20.1" rx="0.6" fill="none" stroke="#505050" stroke-width="1"/>
<rect x="527.1" y="4016.6" width="4.6" height="20.1" rx="0.6" fill="none" stroke="#505050" stroke-width="1"/>
<rect x="535.2" y="4016.6" width="4.6" height="20.1" rx="0.6" fill="none" stroke="#505050" stroke-width="1"/>
<rect x="543.2" y="4016.6" width="4.6" height="20.1" rx="0.6" fill="none" stroke="#505050" stroke-width="1"/>
<rect x="551.2" y="4016.6" width="4.6" height="20.1" rx="0.6" fill="none" stroke="#505050" stroke-width="1"/>
<rect x="559.3" y="4016.6" width="4.6" height="20.1" rx="0.6" fill="none" stroke="#505050" stroke-width="1"/>
<rect x="567.3" y="4016.6" width="4.6" height="20.1" rx="0.6" fill="none" stroke="#505050" stroke-width="1"/>
<rect x="478.9" y="4083.0" width="4.6" height="20.8" rx="0.6" fill="none" stroke="#505050" stroke-width="1"/>
<rect x="486.9" y="4083.0" width="4.6" height="20.8" rx="0.6" fill="none" stroke="#505050" stroke-width="1"/>
<rect x="495.0" y="4083.0" width="4.6" height="20.8" rx="0.6" fill="none" stroke="#505050" stroke-width="1"/>
<rect x="503.0" y="4083.0" width="4.6" height="20.8" rx="0.6" fill="none" stroke="#505050" stroke-width="1"/>
<rect x="511.0" y="4083.0" width="4.6" height="20.8" rx="0.6" fill="none" stroke="#505050" stroke-width="1"/>
<rect x="519.1" y="4083.0" width="4.6" height="20.8" rx="0.6" fill="none" stroke="#505050" stroke-width="1"/>
<rect x="527.1" y="4083.0" width="4.6" height="20.8" rx="0.6" fill="none" stroke="#505050" stroke-width="1"/>
<rect x="535.2" y="4083.0" width="4.6" height="20.8" rx="0.6" fill="none" stroke="#505050" stroke-width="1"/>
<rect x="543.2" y="4083.0" width="4.6" height="20.8" rx="0.6" fill="none" stroke="#505050" stroke-width="1"/>
<rect x="551.2" y="4083.0" width="4.6" height="20.8" rx="0.6" fill="none" stroke="#505050" stroke-width="1"/>
<rect x="559.3" y="4083.0" width="4.6" height="20.8" rx="0.6" fill="none" stroke="#505050" stroke-width="1"/>
<rect x="567.3" y="4083.0" width="4.6" height="20.8" rx="0.6" fill="none" stroke="#505050" stroke-width="1"/>
<polyline points="485.3,4115.7 485.3,4128.5 481.0,4131.5 471.3,4131.5 471.3,4129.5 480.0,4129.5 483.0,4127.0 483.0,4115.7" fill="none" stroke="#787878" stroke-width="1"/>
<polyline points="564.0,4115.7 564.0,4128.5 568.3,4131.5 578.9,4131.5 578.9,4129.5 569.3,4129.5 566.3,4127.0 566.3,4115.7" fill="none" stroke="#787878" stroke-width="1"/>
<line x1="485.3" y1="4120.0" x2="564.0" y2="4120.0" stroke="#787878" stroke-width="1"/>
<line x1="488.3" y1="4115.7" x2="488.3" y2="4120.0" stroke="#787878" stroke-width="1"/>
<line x1="561.0" y1="4115.7" x2="561.0" y2="4120.0" stroke="#787878" stroke-width="1"/>
<line x1="525.7" y1="3971.1" x2="525.7" y2="4115.7" stroke="#ea4a4e" stroke-width="0.9" stroke-dasharray="2.5 1.8"/>
<text x="513.5" y="3950.5" font-size="11" fill="#2a66c0" text-anchor="start" textLength="97">ケーブルホールøL</text>
<path d="M613 3953.2 H493 C491.5 3964 491.2 3976 491.7 3988" fill="none" stroke="#2a66c0"/>
<polyline points="489.5,3980.5 491.7,3988.0 493.8,3980.5" fill="none" stroke="#2a66c0" stroke-width="1"/>
<line x1="470.4" y1="4132.8" x2="470.4" y2="4171.0" stroke="#2a66c0" stroke-width="1"/>
<line x1="477.7" y1="4132.8" x2="477.7" y2="4154.0" stroke="#2a66c0" stroke-width="1"/>
<line x1="572.6" y1="4132.8" x2="572.6" y2="4154.0" stroke="#2a66c0" stroke-width="1"/>
<line x1="579.8" y1="4132.8" x2="579.8" y2="4171.0" stroke="#2a66c0" stroke-width="1"/>
<line x1="477.7" y1="4149.8" x2="572.6" y2="4149.8" stroke="#2a66c0" stroke-width="1"/>
<polyline points="486.7,4147.6 477.7,4149.8 486.7,4152.0" fill="none" stroke="#2a66c0" stroke-width="1"/>
<polyline points="563.6,4147.6 572.6,4149.8 563.6,4152.0" fill="none" stroke="#2a66c0" stroke-width="1"/>
<text x="525.7" y="4147.0" font-size="10" fill="#2a66c0" text-anchor="middle">w</text>
<line x1="470.4" y1="4166.8" x2="579.8" y2="4166.8" stroke="#2a66c0" stroke-width="1"/>
<polyline points="479.4,4164.6 470.4,4166.8 479.4,4169.0" fill="none" stroke="#2a66c0" stroke-width="1"/>
<polyline points="570.8,4164.6 579.8,4166.8 570.8,4169.0" fill="none" stroke="#2a66c0" stroke-width="1"/>
<text x="525.7" y="4164.3" font-size="10.5" fill="#2a66c0" text-anchor="middle">W</text>
<text x="596.5" y="4150.5" font-size="11" fill="#2a66c0" text-anchor="start" textLength="37">4－øS</text>
<polyline points="634.3,4154.0 579.8,4154.0 572.6,4132.8" fill="none" stroke="#2a66c0" stroke-width="1"/>
<text x="594.5" y="4096.0" font-size="10.5" fill="#2a66c0" text-anchor="start" textLength="61">M6接地端子</text>
<polyline points="595.0,4099.2 673.3,4099.2 691.3,4123.6" fill="none" stroke="#2a66c0" stroke-width="1"/>
<circle cx="692.0" cy="4124.4" r="1.3" fill="#fff" stroke="#444" stroke-width="0.8"/>
<text x="638.3" y="4196.0" font-size="11.5" fill="#222" text-anchor="middle">図2</text>
<rect x="673.3" y="3981.6" width="129.7" height="147.9" rx="0" fill="none" stroke="#787878" stroke-width="1"/>
<line x1="673.3" y1="3983.8" x2="803.0" y2="3983.8" stroke="#999" stroke-width="0.8"/>
<rect x="734.2" y="3970.0" width="6.8" height="11.6" rx="0" fill="none" stroke="#666" stroke-width="1"/>
<line x1="734.2" y1="3972.5" x2="741.0" y2="3972.5" stroke="#888" stroke-width="0.7"/>
<circle cx="737.6" cy="3969.5" r="2.2" fill="none" stroke="#666" stroke-width="0.9"/>
<rect x="732.0" y="3979.0" width="11.3" height="2.6" rx="0" fill="none" stroke="#787878" stroke-width="0.8"/>
<rect x="679.2" y="3987.1" width="4.3" height="21.2" rx="0.6" fill="none" stroke="#505050" stroke-width="1"/>
<rect x="687.3" y="3987.1" width="4.3" height="21.2" rx="0.6" fill="none" stroke="#505050" stroke-width="1"/>
<rect x="695.4" y="3987.1" width="4.3" height="21.2" rx="0.6" fill="none" stroke="#505050" stroke-width="1"/>
<rect x="703.5" y="3987.1" width="4.3" height="21.2" rx="0.6" fill="none" stroke="#505050" stroke-width="1"/>
<rect x="711.6" y="3987.1" width="4.3" height="21.2" rx="0.6" fill="none" stroke="#505050" stroke-width="1"/>
<rect x="719.7" y="3987.1" width="4.3" height="21.2" rx="0.6" fill="none" stroke="#505050" stroke-width="1"/>
<rect x="727.8" y="3987.1" width="4.3" height="21.2" rx="0.6" fill="none" stroke="#505050" stroke-width="1"/>
<rect x="735.9" y="3987.1" width="4.3" height="21.2" rx="0.6" fill="none" stroke="#505050" stroke-width="1"/>
<rect x="743.9" y="3987.1" width="4.3" height="21.2" rx="0.6" fill="none" stroke="#505050" stroke-width="1"/>
<rect x="752.0" y="3987.1" width="4.3" height="21.2" rx="0.6" fill="none" stroke="#505050" stroke-width="1"/>
<rect x="760.1" y="3987.1" width="4.3" height="21.2" rx="0.6" fill="none" stroke="#505050" stroke-width="1"/>
<rect x="768.2" y="3987.1" width="4.3" height="21.2" rx="0.6" fill="none" stroke="#505050" stroke-width="1"/>
<rect x="776.3" y="3987.1" width="4.3" height="21.2" rx="0.6" fill="none" stroke="#505050" stroke-width="1"/>
<rect x="784.4" y="3987.1" width="4.3" height="21.2" rx="0.6" fill="none" stroke="#505050" stroke-width="1"/>
<rect x="792.5" y="3987.1" width="4.3" height="21.2" rx="0.6" fill="none" stroke="#505050" stroke-width="1"/>
<rect x="679.2" y="4014.9" width="4.3" height="22.2" rx="0.6" fill="none" stroke="#505050" stroke-width="1"/>
<rect x="687.3" y="4014.9" width="4.3" height="22.2" rx="0.6" fill="none" stroke="#505050" stroke-width="1"/>
<rect x="695.4" y="4014.9" width="4.3" height="22.2" rx="0.6" fill="none" stroke="#505050" stroke-width="1"/>
<rect x="703.5" y="4014.9" width="4.3" height="22.2" rx="0.6" fill="none" stroke="#505050" stroke-width="1"/>
<rect x="711.6" y="4014.9" width="4.3" height="22.2" rx="0.6" fill="none" stroke="#505050" stroke-width="1"/>
<rect x="719.7" y="4014.9" width="4.3" height="22.2" rx="0.6" fill="none" stroke="#505050" stroke-width="1"/>
<rect x="727.8" y="4014.9" width="4.3" height="22.2" rx="0.6" fill="none" stroke="#505050" stroke-width="1"/>
<rect x="735.9" y="4014.9" width="4.3" height="22.2" rx="0.6" fill="none" stroke="#505050" stroke-width="1"/>
<rect x="743.9" y="4014.9" width="4.3" height="22.2" rx="0.6" fill="none" stroke="#505050" stroke-width="1"/>
<rect x="752.0" y="4014.9" width="4.3" height="22.2" rx="0.6" fill="none" stroke="#505050" stroke-width="1"/>
<rect x="760.1" y="4014.9" width="4.3" height="22.2" rx="0.6" fill="none" stroke="#505050" stroke-width="1"/>
<rect x="768.2" y="4014.9" width="4.3" height="22.2" rx="0.6" fill="none" stroke="#505050" stroke-width="1"/>
<rect x="776.3" y="4014.9" width="4.3" height="22.2" rx="0.6" fill="none" stroke="#505050" stroke-width="1"/>
<rect x="784.4" y="4014.9" width="4.3" height="22.2" rx="0.6" fill="none" stroke="#505050" stroke-width="1"/>
<rect x="792.5" y="4014.9" width="4.3" height="22.2" rx="0.6" fill="none" stroke="#505050" stroke-width="1"/>
<rect x="679.2" y="4082.5" width="4.3" height="21.8" rx="0.6" fill="none" stroke="#505050" stroke-width="1"/>
<rect x="687.3" y="4082.5" width="4.3" height="21.8" rx="0.6" fill="none" stroke="#505050" stroke-width="1"/>
<rect x="695.4" y="4082.5" width="4.3" height="21.8" rx="0.6" fill="none" stroke="#505050" stroke-width="1"/>
<rect x="703.5" y="4082.5" width="4.3" height="21.8" rx="0.6" fill="none" stroke="#505050" stroke-width="1"/>
<rect x="711.6" y="4082.5" width="4.3" height="21.8" rx="0.6" fill="none" stroke="#505050" stroke-width="1"/>
<rect x="719.7" y="4082.5" width="4.3" height="21.8" rx="0.6" fill="none" stroke="#505050" stroke-width="1"/>
<rect x="727.8" y="4082.5" width="4.3" height="21.8" rx="0.6" fill="none" stroke="#505050" stroke-width="1"/>
<rect x="735.9" y="4082.5" width="4.3" height="21.8" rx="0.6" fill="none" stroke="#505050" stroke-width="1"/>
<rect x="743.9" y="4082.5" width="4.3" height="21.8" rx="0.6" fill="none" stroke="#505050" stroke-width="1"/>
<rect x="752.0" y="4082.5" width="4.3" height="21.8" rx="0.6" fill="none" stroke="#505050" stroke-width="1"/>
<rect x="760.1" y="4082.5" width="4.3" height="21.8" rx="0.6" fill="none" stroke="#505050" stroke-width="1"/>
<rect x="768.2" y="4082.5" width="4.3" height="21.8" rx="0.6" fill="none" stroke="#505050" stroke-width="1"/>
<rect x="776.3" y="4082.5" width="4.3" height="21.8" rx="0.6" fill="none" stroke="#505050" stroke-width="1"/>
<rect x="784.4" y="4082.5" width="4.3" height="21.8" rx="0.6" fill="none" stroke="#505050" stroke-width="1"/>
<rect x="792.5" y="4082.5" width="4.3" height="21.8" rx="0.6" fill="none" stroke="#505050" stroke-width="1"/>
<line x1="794.4" y1="4114.3" x2="803.0" y2="4114.3" stroke="#787878" stroke-width="1"/>
<line x1="737.4" y1="3969.0" x2="737.4" y2="4129.5" stroke="#ea4a4e" stroke-width="0.9" stroke-dasharray="2.5 1.8"/>
<line x1="673.3" y1="4129.5" x2="673.3" y2="4170.9" stroke="#2a66c0" stroke-width="1"/>
<line x1="679.9" y1="4129.5" x2="679.9" y2="4153.2" stroke="#2a66c0" stroke-width="1"/>
<line x1="795.5" y1="4129.5" x2="795.5" y2="4153.2" stroke="#2a66c0" stroke-width="1"/>
<line x1="803.0" y1="4129.5" x2="803.0" y2="4170.9" stroke="#2a66c0" stroke-width="1"/>
<line x1="679.9" y1="4150.7" x2="795.5" y2="4150.7" stroke="#2a66c0" stroke-width="1"/>
<polyline points="688.9,4148.5 679.9,4150.7 688.9,4152.9" fill="none" stroke="#2a66c0" stroke-width="1"/>
<polyline points="786.5,4148.5 795.5,4150.7 786.5,4152.9" fill="none" stroke="#2a66c0" stroke-width="1"/>
<text x="737.4" y="4147.5" font-size="10" fill="#2a66c0" text-anchor="middle">d</text>
<line x1="673.3" y1="4167.3" x2="803.0" y2="4167.3" stroke="#2a66c0" stroke-width="1"/>
<polyline points="682.3,4165.1 673.3,4167.3 682.3,4169.5" fill="none" stroke="#2a66c0" stroke-width="1"/>
<polyline points="794.0,4165.1 803.0,4167.3 794.0,4169.5" fill="none" stroke="#2a66c0" stroke-width="1"/>
<text x="737.4" y="4164.8" font-size="10.5" fill="#2a66c0" text-anchor="middle">D</text>
</svg></div>
</body>
</html>
